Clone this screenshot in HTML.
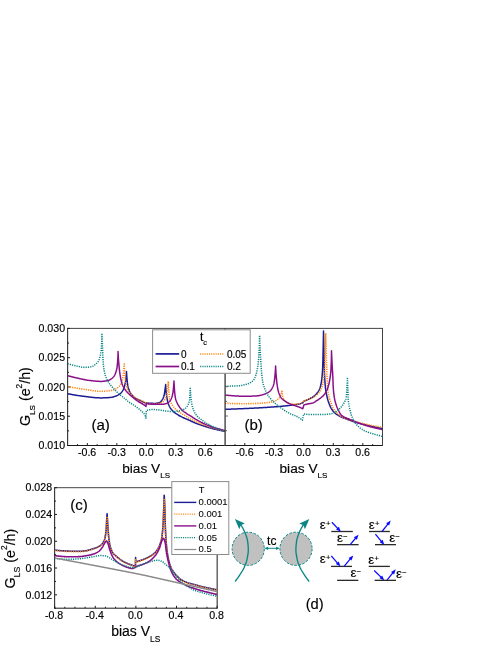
<!DOCTYPE html>
<html><head><meta charset="utf-8"><title>Conductance figure</title>
<style>
html,body{margin:0;padding:0;background:#fff;}
body{width:498px;height:645px;overflow:hidden;font-family:"Liberation Sans",sans-serif;}
svg{display:block;will-change:transform;}
svg text{font-family:"Liberation Sans",sans-serif;fill:#000;stroke:#000;stroke-width:0.16px;}
</style></head>
<body>
<svg width="498" height="645" viewBox="0 0 498 645">
<line x1="67.65" y1="328.40" x2="382.50" y2="328.40" stroke="#2e2e2e" stroke-width="0.9" />
<line x1="67.65" y1="445.50" x2="382.50" y2="445.50" stroke="#1a1a1a" stroke-width="1.0" />
<line x1="67.65" y1="327.90" x2="67.65" y2="446.00" stroke="#1a1a1a" stroke-width="1.0" />
<line x1="382.50" y1="327.95" x2="382.50" y2="446.00" stroke="#2e2e2e" stroke-width="0.9" />
<line x1="67.65" y1="445.50" x2="70.05" y2="445.50" stroke="#1a1a1a" stroke-width="1.0" />
<text x="65.05" y="449.20" font-size="10.6" text-anchor="end" >0.010</text>
<line x1="67.65" y1="430.86" x2="69.05" y2="430.86" stroke="#1a1a1a" stroke-width="1.0" />
<line x1="67.65" y1="416.23" x2="70.05" y2="416.23" stroke="#1a1a1a" stroke-width="1.0" />
<text x="65.05" y="419.93" font-size="10.6" text-anchor="end" >0.015</text>
<line x1="67.65" y1="401.59" x2="69.05" y2="401.59" stroke="#1a1a1a" stroke-width="1.0" />
<line x1="67.65" y1="386.95" x2="70.05" y2="386.95" stroke="#1a1a1a" stroke-width="1.0" />
<text x="65.05" y="390.65" font-size="10.6" text-anchor="end" >0.020</text>
<line x1="67.65" y1="372.31" x2="69.05" y2="372.31" stroke="#1a1a1a" stroke-width="1.0" />
<line x1="67.65" y1="357.67" x2="70.05" y2="357.67" stroke="#1a1a1a" stroke-width="1.0" />
<text x="65.05" y="361.37" font-size="10.6" text-anchor="end" >0.025</text>
<line x1="67.65" y1="343.04" x2="69.05" y2="343.04" stroke="#1a1a1a" stroke-width="1.0" />
<line x1="67.65" y1="328.40" x2="70.05" y2="328.40" stroke="#1a1a1a" stroke-width="1.0" />
<text x="65.05" y="332.10" font-size="10.6" text-anchor="end" >0.030</text>
<line x1="77.49" y1="445.50" x2="77.49" y2="444.10" stroke="#1a1a1a" stroke-width="1.0" />
<line x1="87.33" y1="445.50" x2="87.33" y2="443.10" stroke="#1a1a1a" stroke-width="1.0" />
<text x="87.13" y="456.30" font-size="10.6" text-anchor="middle" >-0.6</text>
<line x1="97.17" y1="445.50" x2="97.17" y2="444.10" stroke="#1a1a1a" stroke-width="1.0" />
<line x1="107.01" y1="445.50" x2="107.01" y2="444.10" stroke="#1a1a1a" stroke-width="1.0" />
<line x1="116.85" y1="445.50" x2="116.85" y2="443.10" stroke="#1a1a1a" stroke-width="1.0" />
<text x="116.65" y="456.30" font-size="10.6" text-anchor="middle" >-0.3</text>
<line x1="126.69" y1="445.50" x2="126.69" y2="444.10" stroke="#1a1a1a" stroke-width="1.0" />
<line x1="136.53" y1="445.50" x2="136.53" y2="444.10" stroke="#1a1a1a" stroke-width="1.0" />
<line x1="146.38" y1="445.50" x2="146.38" y2="443.10" stroke="#1a1a1a" stroke-width="1.0" />
<text x="146.18" y="456.30" font-size="10.6" text-anchor="middle" >0.0</text>
<line x1="156.22" y1="445.50" x2="156.22" y2="444.10" stroke="#1a1a1a" stroke-width="1.0" />
<line x1="166.06" y1="445.50" x2="166.06" y2="444.10" stroke="#1a1a1a" stroke-width="1.0" />
<line x1="175.90" y1="445.50" x2="175.90" y2="443.10" stroke="#1a1a1a" stroke-width="1.0" />
<text x="175.70" y="456.30" font-size="10.6" text-anchor="middle" >0.3</text>
<line x1="185.74" y1="445.50" x2="185.74" y2="444.10" stroke="#1a1a1a" stroke-width="1.0" />
<line x1="195.58" y1="445.50" x2="195.58" y2="444.10" stroke="#1a1a1a" stroke-width="1.0" />
<line x1="205.42" y1="445.50" x2="205.42" y2="443.10" stroke="#1a1a1a" stroke-width="1.0" />
<text x="205.22" y="456.30" font-size="10.6" text-anchor="middle" >0.6</text>
<line x1="215.26" y1="445.50" x2="215.26" y2="444.10" stroke="#1a1a1a" stroke-width="1.0" />
<line x1="234.94" y1="445.50" x2="234.94" y2="444.10" stroke="#1a1a1a" stroke-width="1.0" />
<line x1="244.78" y1="445.50" x2="244.78" y2="443.10" stroke="#1a1a1a" stroke-width="1.0" />
<text x="244.58" y="456.30" font-size="10.6" text-anchor="middle" >-0.6</text>
<line x1="254.61" y1="445.50" x2="254.61" y2="444.10" stroke="#1a1a1a" stroke-width="1.0" />
<line x1="264.45" y1="445.50" x2="264.45" y2="444.10" stroke="#1a1a1a" stroke-width="1.0" />
<line x1="274.29" y1="445.50" x2="274.29" y2="443.10" stroke="#1a1a1a" stroke-width="1.0" />
<text x="274.09" y="456.30" font-size="10.6" text-anchor="middle" >-0.3</text>
<line x1="284.12" y1="445.50" x2="284.12" y2="444.10" stroke="#1a1a1a" stroke-width="1.0" />
<line x1="293.96" y1="445.50" x2="293.96" y2="444.10" stroke="#1a1a1a" stroke-width="1.0" />
<line x1="303.80" y1="445.50" x2="303.80" y2="443.10" stroke="#1a1a1a" stroke-width="1.0" />
<text x="303.60" y="456.30" font-size="10.6" text-anchor="middle" >0.0</text>
<line x1="313.64" y1="445.50" x2="313.64" y2="444.10" stroke="#1a1a1a" stroke-width="1.0" />
<line x1="323.48" y1="445.50" x2="323.48" y2="444.10" stroke="#1a1a1a" stroke-width="1.0" />
<line x1="333.31" y1="445.50" x2="333.31" y2="443.10" stroke="#1a1a1a" stroke-width="1.0" />
<text x="333.11" y="456.30" font-size="10.6" text-anchor="middle" >0.3</text>
<line x1="343.15" y1="445.50" x2="343.15" y2="444.10" stroke="#1a1a1a" stroke-width="1.0" />
<line x1="352.99" y1="445.50" x2="352.99" y2="444.10" stroke="#1a1a1a" stroke-width="1.0" />
<line x1="362.82" y1="445.50" x2="362.82" y2="443.10" stroke="#1a1a1a" stroke-width="1.0" />
<text x="362.62" y="456.30" font-size="10.6" text-anchor="middle" >0.6</text>
<line x1="372.66" y1="445.50" x2="372.66" y2="444.10" stroke="#1a1a1a" stroke-width="1.0" />
<line x1="54.65" y1="487.70" x2="217.15" y2="487.70" stroke="#444" stroke-width="1.0" />
<line x1="54.65" y1="608.20" x2="217.15" y2="608.20" stroke="#1a1a1a" stroke-width="1.0" />
<line x1="54.65" y1="487.20" x2="54.65" y2="608.70" stroke="#1a1a1a" stroke-width="1.0" />
<line x1="217.15" y1="487.20" x2="217.15" y2="608.70" stroke="#1a1a1a" stroke-width="1.0" />
<line x1="54.65" y1="594.81" x2="57.05" y2="594.81" stroke="#1a1a1a" stroke-width="1.0" />
<text x="52.05" y="598.51" font-size="10.6" text-anchor="end" >0.012</text>
<line x1="54.65" y1="608.20" x2="56.05" y2="608.20" stroke="#1a1a1a" stroke-width="1.0" />
<line x1="54.65" y1="568.03" x2="57.05" y2="568.03" stroke="#1a1a1a" stroke-width="1.0" />
<text x="52.05" y="571.73" font-size="10.6" text-anchor="end" >0.016</text>
<line x1="54.65" y1="581.42" x2="56.05" y2="581.42" stroke="#1a1a1a" stroke-width="1.0" />
<line x1="54.65" y1="541.26" x2="57.05" y2="541.26" stroke="#1a1a1a" stroke-width="1.0" />
<text x="52.05" y="544.96" font-size="10.6" text-anchor="end" >0.020</text>
<line x1="54.65" y1="554.64" x2="56.05" y2="554.64" stroke="#1a1a1a" stroke-width="1.0" />
<line x1="54.65" y1="514.48" x2="57.05" y2="514.48" stroke="#1a1a1a" stroke-width="1.0" />
<text x="52.05" y="518.18" font-size="10.6" text-anchor="end" >0.024</text>
<line x1="54.65" y1="527.87" x2="56.05" y2="527.87" stroke="#1a1a1a" stroke-width="1.0" />
<line x1="54.65" y1="487.70" x2="57.05" y2="487.70" stroke="#1a1a1a" stroke-width="1.0" />
<text x="52.05" y="491.40" font-size="10.6" text-anchor="end" >0.028</text>
<line x1="54.65" y1="501.09" x2="56.05" y2="501.09" stroke="#1a1a1a" stroke-width="1.0" />
<line x1="54.65" y1="608.20" x2="54.65" y2="605.80" stroke="#1a1a1a" stroke-width="1.0" />
<text x="54.05" y="619.30" font-size="10.6" text-anchor="middle" >-0.8</text>
<line x1="64.81" y1="608.20" x2="64.81" y2="606.80" stroke="#1a1a1a" stroke-width="1.0" />
<line x1="74.96" y1="608.20" x2="74.96" y2="606.80" stroke="#1a1a1a" stroke-width="1.0" />
<line x1="85.12" y1="608.20" x2="85.12" y2="606.80" stroke="#1a1a1a" stroke-width="1.0" />
<line x1="95.28" y1="608.20" x2="95.28" y2="605.80" stroke="#1a1a1a" stroke-width="1.0" />
<text x="94.68" y="619.30" font-size="10.6" text-anchor="middle" >-0.4</text>
<line x1="105.43" y1="608.20" x2="105.43" y2="606.80" stroke="#1a1a1a" stroke-width="1.0" />
<line x1="115.59" y1="608.20" x2="115.59" y2="606.80" stroke="#1a1a1a" stroke-width="1.0" />
<line x1="125.74" y1="608.20" x2="125.74" y2="606.80" stroke="#1a1a1a" stroke-width="1.0" />
<line x1="135.90" y1="608.20" x2="135.90" y2="605.80" stroke="#1a1a1a" stroke-width="1.0" />
<text x="135.30" y="619.30" font-size="10.6" text-anchor="middle" >0.0</text>
<line x1="146.06" y1="608.20" x2="146.06" y2="606.80" stroke="#1a1a1a" stroke-width="1.0" />
<line x1="156.21" y1="608.20" x2="156.21" y2="606.80" stroke="#1a1a1a" stroke-width="1.0" />
<line x1="166.37" y1="608.20" x2="166.37" y2="606.80" stroke="#1a1a1a" stroke-width="1.0" />
<line x1="176.53" y1="608.20" x2="176.53" y2="605.80" stroke="#1a1a1a" stroke-width="1.0" />
<text x="175.93" y="619.30" font-size="10.6" text-anchor="middle" >0.4</text>
<line x1="186.68" y1="608.20" x2="186.68" y2="606.80" stroke="#1a1a1a" stroke-width="1.0" />
<line x1="196.84" y1="608.20" x2="196.84" y2="606.80" stroke="#1a1a1a" stroke-width="1.0" />
<line x1="206.99" y1="608.20" x2="206.99" y2="606.80" stroke="#1a1a1a" stroke-width="1.0" />
<line x1="217.15" y1="608.20" x2="217.15" y2="605.80" stroke="#1a1a1a" stroke-width="1.0" />
<text x="216.55" y="619.30" font-size="10.6" text-anchor="middle" >0.8</text>
<clipPath id="ca"><rect x="67.65" y="328.4" width="157.45" height="117.10000000000002"/></clipPath>
<clipPath id="cb"><rect x="225.1" y="328.4" width="157.4" height="117.10000000000002"/></clipPath>
<clipPath id="cc"><rect x="54.65" y="487.7" width="162.5" height="120.50000000000006"/></clipPath>
<g clip-path="url(#ca)">
<path d="M67.60 393.70L68.10 393.80L68.59 393.89L69.09 393.99L69.58 394.08L70.08 394.18L70.58 394.27L71.07 394.36L71.57 394.46L72.07 394.55L72.56 394.64L73.06 394.72L73.56 394.81L74.06 394.90L74.55 394.98L75.05 395.07L75.55 395.15L76.05 395.23L76.54 395.31L77.04 395.39L77.54 395.47L78.04 395.55L78.54 395.62L79.04 395.69L79.53 395.77L80.03 395.84L80.53 395.91L81.03 395.98L81.53 396.04L82.03 396.11L82.53 396.17L83.03 396.23L83.53 396.29L84.03 396.35L84.53 396.41L85.03 396.47L85.53 396.53L86.03 396.60L86.53 396.66L87.03 396.72L87.54 396.79L88.04 396.85L88.54 396.91L89.04 396.98L89.54 397.04L90.04 397.10L90.55 397.16L91.05 397.22L91.55 397.27L92.05 397.33L92.56 397.38L93.06 397.44L93.56 397.49L94.07 397.54L94.57 397.58L95.07 397.63L95.57 397.67L96.08 397.71L96.58 397.74L97.08 397.77L97.59 397.80L98.09 397.83L98.59 397.85L99.10 397.87L99.60 397.88L100.10 397.89L100.60 397.90L101.11 397.90L101.61 397.90L102.12 397.89L102.62 397.88L103.13 397.87L103.63 397.86L104.14 397.84L104.65 397.83L105.15 397.80L105.66 397.78L106.16 397.75L106.67 397.73L107.17 397.70L107.68 397.66L108.18 397.63L108.68 397.59L109.19 397.55L109.69 397.51L110.18 397.47L110.68 397.42L111.18 397.37L111.67 397.29L112.17 397.18L112.66 397.06L113.15 396.92L113.64 396.77L114.12 396.63L114.60 396.48L115.08 396.31L115.56 396.14L116.03 395.96L116.50 395.77L116.97 395.56L117.42 395.35L117.87 395.12L118.30 394.89L118.74 394.63L119.18 394.36L119.61 394.07L120.02 393.76L120.42 393.44L120.79 393.11L121.14 392.76L121.46 392.40L121.77 392.02L122.06 391.61L122.35 391.18L122.62 390.74L122.87 390.29L123.11 389.83L123.33 389.37L123.53 388.92L123.73 388.46L123.91 388.00L124.09 387.52L124.25 387.04L124.41 386.56L124.56 386.07L124.70 385.58L124.83 385.09L124.96 384.60L125.07 384.11L125.18 383.62L125.28 383.13L125.38 382.64L125.48 382.14L125.57 381.64L125.65 381.14L125.73 380.64L125.81 380.14L125.88 379.64L125.94 379.14L126.00 378.64L126.05 378.14L126.10 377.64L126.15 377.14L126.19 376.64L126.24 376.14L126.28 375.64L126.32 375.13L126.36 374.63L126.39 374.13L126.42 373.62L126.45 373.12L126.47 372.61L126.49 372.11L126.50 371.60L126.50 371.60L126.52 372.11L126.54 372.61L126.57 373.12L126.60 373.63L126.63 374.13L126.66 374.64L126.69 375.14L126.73 375.65L126.77 376.15L126.81 376.66L126.85 377.16L126.89 377.67L126.93 378.17L126.97 378.68L127.02 379.18L127.06 379.68L127.11 380.19L127.16 380.70L127.21 381.20L127.26 381.71L127.32 382.21L127.38 382.72L127.44 383.22L127.51 383.72L127.58 384.22L127.65 384.72L127.73 385.22L127.82 385.71L127.92 386.21L128.03 386.70L128.15 387.20L128.29 387.69L128.43 388.18L128.59 388.67L128.75 389.15L128.92 389.63L129.10 390.10L129.29 390.57L129.48 391.02L129.69 391.48L129.92 391.94L130.17 392.39L130.42 392.84L130.69 393.27L130.97 393.71L131.26 394.13L131.56 394.54L131.87 394.93L132.18 395.31L132.51 395.69L132.86 396.06L133.23 396.42L133.61 396.77L134.01 397.10L134.40 397.41L134.81 397.71L135.22 397.98L135.64 398.24L136.07 398.49L136.52 398.73L136.97 398.96L137.42 399.18L137.89 399.40L138.35 399.62L138.82 399.83L139.29 400.04L139.76 400.24L140.23 400.45L140.69 400.66L141.15 400.87L141.61 401.10L142.07 401.34L142.53 401.59L142.99 401.84L143.45 402.08L143.92 402.30L144.38 402.50L144.85 402.67L145.33 402.80L145.81 402.89L146.29 402.94L146.78 402.99L147.28 403.04L147.77 403.08L148.28 403.12L148.78 403.16L149.29 403.20L149.80 403.23L150.31 403.26L150.83 403.29L151.34 403.31L151.85 403.34L152.37 403.35L152.88 403.37L153.39 403.38L153.90 403.39L154.40 403.40L154.91 403.40L155.41 403.39L155.93 403.35L156.45 403.29L156.98 403.20L157.49 403.10L158.00 402.98L158.49 402.84L158.96 402.69L159.40 402.54L159.81 402.36L160.21 402.09L160.61 401.76L160.98 401.39L161.34 400.98L161.68 400.55L161.98 400.12L162.26 399.71L162.52 399.30L162.77 398.86L163.01 398.40L163.23 397.94L163.44 397.46L163.63 396.98L163.80 396.50L163.94 396.01L164.07 395.53L164.17 395.05L164.27 394.56L164.36 394.06L164.45 393.56L164.53 393.05L164.60 392.55L164.67 392.04L164.74 391.54L164.81 391.03L164.88 390.53L164.95 390.03L165.03 389.53L165.10 389.02L165.16 388.52L165.23 388.02L165.30 387.52L165.36 387.02L165.43 386.51L165.49 386.01L165.55 385.51L165.60 385.00L165.66 384.50L165.66 384.50L165.68 385.00L165.70 385.51L165.72 386.01L165.75 386.52L165.78 387.02L165.81 387.52L165.85 388.02L165.88 388.53L165.92 389.03L165.96 389.53L166.01 390.03L166.05 390.53L166.10 391.03L166.15 391.53L166.19 392.03L166.24 392.53L166.29 393.03L166.35 393.53L166.40 394.03L166.47 394.53L166.53 395.03L166.60 395.53L166.68 396.03L166.75 396.53L166.83 397.03L166.92 397.52L167.00 398.02L167.09 398.52L167.17 399.01L167.26 399.51L167.35 400.01L167.45 400.50L167.56 401.00L167.66 401.49L167.78 401.98L167.91 402.46L168.04 402.94L168.19 403.42L168.36 403.90L168.53 404.37L168.73 404.84L168.93 405.31L169.14 405.77L169.36 406.23L169.59 406.67L169.83 407.11L170.08 407.53L170.35 407.96L170.63 408.38L170.92 408.80L171.23 409.21L171.55 409.61L171.88 410.00L172.21 410.38L172.55 410.74L172.90 411.10L173.25 411.44L173.62 411.77L174.01 412.10L174.40 412.42L174.80 412.73L175.21 413.03L175.62 413.33L176.04 413.62L176.46 413.91L176.88 414.18L177.30 414.45L177.72 414.72L178.15 414.98L178.58 415.24L179.02 415.49L179.46 415.74L179.90 415.98L180.35 416.22L180.80 416.45L181.25 416.69L181.70 416.91L182.15 417.14L182.60 417.36L183.05 417.58L183.51 417.79L183.97 418.00L184.43 418.20L184.89 418.40L185.35 418.59L185.82 418.79L186.29 418.98L186.75 419.17L187.22 419.36L187.68 419.56L188.14 419.76L188.60 419.97L189.06 420.18L189.52 420.39L189.98 420.60L190.43 420.81L190.89 421.03L191.35 421.24L191.80 421.46L192.26 421.67L192.72 421.88L193.17 422.09L193.63 422.30L194.09 422.50L194.55 422.70L195.02 422.90L195.48 423.09L195.95 423.28L196.41 423.46L196.88 423.64L197.35 423.82L197.83 423.99L198.30 424.16L198.77 424.33L199.25 424.50L199.73 424.66L200.20 424.82L200.68 424.98L201.16 425.14L201.64 425.30L202.12 425.46L202.59 425.61L203.07 425.77L203.55 425.92L204.03 426.08L204.51 426.23L204.99 426.39L205.47 426.54L205.95 426.69L206.43 426.84L206.91 426.99L207.39 427.14L207.88 427.29L208.36 427.43L208.84 427.58L209.32 427.72L209.81 427.86L210.29 428.00L210.77 428.14L211.26 428.27L211.74 428.40L212.23 428.53L212.72 428.66L213.20 428.79L213.69 428.91L214.18 429.03L214.67 429.15L215.16 429.27L215.65 429.39L216.14 429.51L216.63 429.62L217.12 429.73L217.61 429.85L218.10 429.96L218.59 430.07L219.08 430.18L219.58 430.29L220.07 430.39L220.56 430.50L221.05 430.60L221.54 430.71L222.04 430.81L222.53 430.91L223.02 431.01L223.52 431.11L224.01 431.21L224.51 431.30L225.00 431.40" fill="none" stroke="#1c1c94" stroke-width="1.5" stroke-linejoin="round"/>
<path d="M67.60 386.60L68.10 386.69L68.60 386.78L69.09 386.87L69.59 386.96L70.09 387.05L70.59 387.14L71.09 387.22L71.58 387.31L72.08 387.40L72.58 387.48L73.08 387.57L73.58 387.65L74.08 387.74L74.57 387.82L75.07 387.90L75.57 387.98L76.07 388.06L76.57 388.15L77.07 388.23L77.57 388.30L78.07 388.38L78.57 388.46L79.07 388.54L79.57 388.61L80.07 388.69L80.57 388.76L81.07 388.84L81.57 388.91L82.07 388.98L82.57 389.05L83.07 389.13L83.57 389.20L84.07 389.27L84.57 389.34L85.07 389.41L85.57 389.49L86.07 389.57L86.57 389.65L87.07 389.73L87.57 389.81L88.07 389.89L88.58 389.97L89.08 390.05L89.58 390.13L90.08 390.21L90.58 390.29L91.08 390.37L91.58 390.45L92.09 390.52L92.59 390.59L93.09 390.67L93.59 390.73L94.09 390.80L94.60 390.86L95.10 390.92L95.60 390.98L96.10 391.03L96.61 391.08L97.11 391.13L97.61 391.17L98.12 391.20L98.62 391.23L99.12 391.26L99.62 391.28L100.13 391.29L100.63 391.30L101.14 391.30L101.64 391.30L102.14 391.29L102.65 391.27L103.16 391.26L103.66 391.24L104.17 391.21L104.68 391.18L105.18 391.15L105.69 391.12L106.19 391.08L106.70 391.04L107.20 391.00L107.70 390.96L108.20 390.92L108.71 390.87L109.21 390.81L109.71 390.75L110.22 390.67L110.73 390.58L111.23 390.48L111.73 390.37L112.23 390.26L112.72 390.13L113.21 390.00L113.68 389.86L114.15 389.72L114.61 389.55L115.08 389.36L115.54 389.13L116.00 388.89L116.44 388.62L116.88 388.33L117.30 388.04L117.70 387.73L118.08 387.42L118.44 387.09L118.80 386.74L119.15 386.37L119.49 385.97L119.81 385.56L120.11 385.14L120.39 384.71L120.65 384.28L120.88 383.85L121.09 383.40L121.29 382.94L121.48 382.47L121.65 381.99L121.82 381.50L121.97 381.01L122.11 380.52L122.24 380.03L122.36 379.54L122.47 379.05L122.58 378.56L122.68 378.07L122.77 377.57L122.86 377.07L122.95 376.57L123.03 376.07L123.10 375.57L123.18 375.06L123.25 374.56L123.32 374.06L123.39 373.56L123.45 373.06L123.51 372.56L123.57 372.06L123.63 371.55L123.68 371.05L123.74 370.55L123.79 370.04L123.84 369.54L123.89 369.04L123.93 368.54L123.98 368.03L124.03 367.53L124.07 367.02L124.11 366.52L124.15 366.02L124.19 365.51L124.23 365.01L124.27 364.50L124.30 364.00L124.30 364.00L124.30 364.51L124.31 365.02L124.31 365.53L124.32 366.03L124.34 366.54L124.35 367.05L124.37 367.55L124.39 368.06L124.41 368.57L124.44 369.07L124.46 369.58L124.49 370.08L124.52 370.59L124.56 371.09L124.59 371.60L124.63 372.10L124.67 372.60L124.70 373.11L124.75 373.61L124.79 374.11L124.83 374.61L124.88 375.12L124.92 375.62L124.97 376.12L125.01 376.62L125.06 377.12L125.11 377.62L125.16 378.13L125.21 378.63L125.26 379.13L125.31 379.63L125.37 380.13L125.43 380.63L125.50 381.13L125.58 381.63L125.66 382.13L125.75 382.63L125.85 383.13L125.95 383.63L126.05 384.12L126.16 384.61L126.28 385.10L126.40 385.59L126.53 386.08L126.67 386.57L126.82 387.06L126.98 387.55L127.16 388.03L127.34 388.51L127.53 388.98L127.73 389.44L127.94 389.89L128.16 390.33L128.40 390.76L128.67 391.18L128.96 391.59L129.27 391.99L129.60 392.39L129.94 392.78L130.29 393.16L130.64 393.53L130.99 393.89L131.34 394.24L131.70 394.60L132.06 394.95L132.43 395.30L132.81 395.65L133.19 395.99L133.57 396.33L133.97 396.66L134.36 396.99L134.77 397.30L135.17 397.61L135.58 397.91L136.00 398.20L136.42 398.47L136.84 398.73L137.27 398.98L137.70 399.22L138.14 399.44L138.60 399.64L139.06 399.84L139.53 400.03L140.00 400.22L140.47 400.40L140.95 400.58L141.43 400.76L141.91 400.94L142.39 401.13L142.86 401.32L143.32 401.52L143.78 401.74L144.23 401.98L144.68 402.25L145.13 402.49L145.59 402.71L146.05 402.87L146.53 402.96L147.01 403.05L147.49 403.14L147.99 403.22L148.48 403.29L148.98 403.36L149.49 403.43L149.99 403.49L150.50 403.55L151.01 403.60L151.53 403.65L152.04 403.69L152.55 403.72L153.06 403.75L153.57 403.77L154.08 403.79L154.58 403.80L155.09 403.80L155.59 403.79L156.10 403.76L156.62 403.71L157.13 403.65L157.64 403.58L158.15 403.50L158.65 403.40L159.15 403.30L159.63 403.19L160.11 403.07L160.57 402.95L161.03 402.79L161.50 402.57L161.96 402.32L162.41 402.04L162.84 401.73L163.25 401.40L163.63 401.07L163.97 400.73L164.29 400.38L164.59 399.99L164.89 399.58L165.18 399.14L165.44 398.69L165.69 398.22L165.91 397.75L166.10 397.27L166.27 396.80L166.41 396.34L166.54 395.86L166.66 395.38L166.77 394.89L166.87 394.39L166.97 393.89L167.06 393.39L167.15 392.88L167.23 392.38L167.31 391.87L167.38 391.36L167.44 390.86L167.51 390.36L167.57 389.86L167.63 389.36L167.69 388.86L167.74 388.36L167.80 387.86L167.86 387.35L167.91 386.85L167.96 386.35L168.01 385.85L168.05 385.34L168.10 384.84L168.14 384.34L168.17 383.83L168.21 383.33L168.24 382.82L168.26 382.31L168.28 381.81L168.30 381.30L168.30 381.30L168.32 381.80L168.34 382.31L168.36 382.81L168.38 383.32L168.40 383.82L168.43 384.32L168.45 384.83L168.48 385.33L168.51 385.83L168.53 386.34L168.56 386.84L168.59 387.34L168.62 387.85L168.65 388.35L168.69 388.85L168.72 389.36L168.75 389.86L168.79 390.36L168.82 390.86L168.86 391.37L168.89 391.87L168.93 392.37L168.96 392.88L168.99 393.38L169.03 393.89L169.07 394.40L169.10 394.90L169.14 395.41L169.19 395.92L169.23 396.42L169.28 396.92L169.34 397.42L169.40 397.91L169.47 398.40L169.55 398.89L169.66 399.38L169.80 399.86L169.96 400.34L170.14 400.82L170.33 401.30L170.53 401.77L170.74 402.23L170.95 402.69L171.16 403.14L171.39 403.59L171.63 404.03L171.88 404.47L172.15 404.91L172.42 405.34L172.71 405.76L173.00 406.17L173.30 406.57L173.60 406.96L173.92 407.34L174.25 407.72L174.60 408.10L174.95 408.46L175.31 408.82L175.68 409.17L176.05 409.52L176.43 409.86L176.81 410.19L177.19 410.51L177.58 410.82L177.98 411.13L178.38 411.44L178.79 411.73L179.20 412.02L179.62 412.31L180.04 412.59L180.47 412.87L180.89 413.14L181.32 413.41L181.75 413.67L182.18 413.92L182.62 414.17L183.07 414.41L183.52 414.64L183.96 414.88L184.41 415.11L184.85 415.36L185.29 415.60L185.72 415.86L186.15 416.13L186.56 416.42L186.96 416.73L187.36 417.04L187.76 417.34L188.18 417.62L188.61 417.88L189.04 418.14L189.47 418.40L189.91 418.65L190.35 418.90L190.79 419.14L191.23 419.38L191.68 419.62L192.13 419.85L192.58 420.08L193.04 420.30L193.49 420.53L193.95 420.75L194.40 420.96L194.86 421.18L195.32 421.39L195.78 421.60L196.23 421.80L196.69 422.01L197.15 422.21L197.62 422.40L198.08 422.60L198.55 422.79L199.02 422.98L199.49 423.16L199.96 423.34L200.43 423.53L200.90 423.71L201.37 423.88L201.85 424.06L202.32 424.24L202.79 424.41L203.26 424.59L203.74 424.77L204.21 424.94L204.68 425.12L205.16 425.29L205.63 425.47L206.10 425.64L206.58 425.81L207.05 425.99L207.52 426.16L208.00 426.33L208.48 426.50L208.95 426.66L209.43 426.83L209.91 426.99L210.38 427.15L210.86 427.31L211.34 427.46L211.82 427.61L212.30 427.76L212.78 427.91L213.27 428.05L213.75 428.20L214.23 428.34L214.72 428.48L215.20 428.61L215.69 428.75L216.18 428.88L216.66 429.02L217.15 429.15L217.64 429.28L218.13 429.40L218.61 429.53L219.10 429.65L219.59 429.77L220.08 429.90L220.57 430.01L221.06 430.13L221.55 430.25L222.04 430.36L222.53 430.47L223.03 430.58L223.52 430.69L224.01 430.79L224.51 430.90L225.00 431.00" fill="none" stroke="#ff8510" stroke-width="1.6" stroke-linejoin="round" stroke-dasharray="1.2 1.1"/>
<path d="M67.60 375.70L68.09 375.83L68.58 375.96L69.07 376.09L69.55 376.22L70.04 376.34L70.53 376.47L71.02 376.59L71.51 376.72L72.00 376.84L72.49 376.96L72.98 377.08L73.47 377.20L73.96 377.32L74.45 377.43L74.95 377.55L75.44 377.66L75.93 377.77L76.42 377.88L76.91 377.99L77.41 378.10L77.90 378.21L78.39 378.32L78.89 378.43L79.38 378.54L79.87 378.65L80.37 378.76L80.86 378.87L81.36 378.98L81.85 379.09L82.34 379.20L82.84 379.30L83.34 379.41L83.83 379.51L84.33 379.61L84.82 379.71L85.32 379.81L85.81 379.90L86.31 379.99L86.81 380.07L87.31 380.16L87.80 380.23L88.30 380.31L88.80 380.38L89.30 380.44L89.80 380.50L90.30 380.56L90.80 380.61L91.30 380.67L91.80 380.73L92.31 380.79L92.81 380.84L93.31 380.90L93.82 380.95L94.32 381.00L94.82 381.05L95.33 381.10L95.83 381.15L96.34 381.19L96.84 381.23L97.35 381.27L97.85 381.30L98.36 381.33L98.86 381.35L99.36 381.37L99.87 381.39L100.37 381.40L100.87 381.40L101.37 381.40L101.88 381.38L102.39 381.35L102.90 381.31L103.41 381.26L103.92 381.20L104.43 381.14L104.94 381.06L105.45 380.98L105.94 380.89L106.44 380.79L106.92 380.69L107.40 380.59L107.87 380.48L108.34 380.35L108.82 380.18L109.29 379.99L109.76 379.76L110.23 379.51L110.68 379.24L111.12 378.95L111.55 378.65L111.95 378.34L112.34 378.02L112.69 377.71L113.03 377.37L113.36 377.00L113.68 376.61L113.99 376.19L114.28 375.75L114.55 375.30L114.80 374.85L115.03 374.39L115.22 373.94L115.41 373.49L115.59 373.02L115.76 372.55L115.93 372.08L116.09 371.59L116.25 371.10L116.39 370.61L116.53 370.11L116.65 369.62L116.77 369.12L116.87 368.62L116.96 368.12L117.04 367.62L117.10 367.12L117.15 366.63L117.20 366.13L117.26 365.64L117.31 365.14L117.35 364.64L117.40 364.15L117.45 363.65L117.49 363.15L117.54 362.65L117.58 362.15L117.62 361.65L117.66 361.15L117.70 360.65L117.73 360.15L117.77 359.65L117.80 359.14L117.83 358.64L117.86 358.13L117.89 357.63L117.91 357.12L117.94 356.61L117.96 356.11L117.98 355.60L117.99 355.09L118.01 354.58L118.02 354.07L118.03 353.56L118.04 353.04L118.05 352.53L118.05 352.02L118.05 351.50L118.05 351.50L118.07 352.01L118.08 352.51L118.10 353.02L118.13 353.52L118.15 354.03L118.17 354.53L118.20 355.04L118.23 355.54L118.26 356.04L118.29 356.55L118.32 357.05L118.35 357.56L118.38 358.06L118.42 358.56L118.46 359.07L118.49 359.57L118.53 360.08L118.57 360.58L118.61 361.08L118.65 361.58L118.69 362.09L118.74 362.59L118.78 363.09L118.83 363.60L118.87 364.10L118.92 364.60L118.96 365.10L119.01 365.60L119.06 366.11L119.11 366.61L119.15 367.11L119.20 367.61L119.25 368.11L119.30 368.62L119.35 369.12L119.41 369.62L119.46 370.12L119.52 370.62L119.58 371.13L119.64 371.63L119.70 372.13L119.77 372.63L119.84 373.13L119.91 373.63L119.98 374.13L120.05 374.63L120.13 375.13L120.21 375.63L120.29 376.13L120.38 376.62L120.47 377.12L120.56 377.61L120.65 378.11L120.75 378.61L120.85 379.11L120.96 379.61L121.07 380.10L121.19 380.60L121.31 381.10L121.43 381.59L121.57 382.08L121.70 382.57L121.85 383.05L122.00 383.53L122.15 384.00L122.32 384.47L122.49 384.93L122.67 385.38L122.88 385.84L123.10 386.29L123.33 386.74L123.58 387.19L123.84 387.63L124.11 388.07L124.39 388.50L124.67 388.93L124.96 389.35L125.26 389.77L125.56 390.18L125.86 390.58L126.16 390.97L126.47 391.36L126.79 391.74L127.12 392.12L127.46 392.49L127.81 392.85L128.17 393.21L128.54 393.57L128.91 393.92L129.28 394.27L129.66 394.61L130.04 394.95L130.41 395.29L130.79 395.63L131.17 395.96L131.55 396.29L131.93 396.62L132.31 396.95L132.69 397.28L133.08 397.60L133.47 397.93L133.87 398.25L134.26 398.56L134.66 398.87L135.06 399.18L135.47 399.49L135.87 399.79L136.28 400.09L136.69 400.38L137.10 400.67L137.52 400.95L137.94 401.22L138.37 401.49L138.80 401.74L139.24 402.00L139.68 402.25L140.12 402.49L140.56 402.74L141.01 402.99L141.45 403.24L141.89 403.49L142.32 403.75L142.75 404.01L143.17 404.28L143.59 404.56L144.00 404.85L144.41 405.15L144.81 405.46L145.21 405.77L145.61 406.08L146.00 406.40L146.30 403.70L146.81 403.75L147.31 403.81L147.82 403.86L148.33 403.91L148.83 403.96L149.34 404.01L149.84 404.05L150.35 404.09L150.86 404.13L151.37 404.17L151.87 404.20L152.38 404.23L152.89 404.25L153.39 404.27L153.90 404.29L154.41 404.30L154.91 404.30L155.42 404.30L155.93 404.30L156.44 404.30L156.95 404.30L157.46 404.30L157.97 404.30L158.48 404.30L158.99 404.30L159.50 404.30L160.01 404.30L160.51 404.30L161.02 404.30L161.52 404.30L162.03 404.30L162.53 404.29L163.05 404.26L163.56 404.20L164.08 404.11L164.60 404.01L165.10 403.88L165.60 403.75L166.08 403.61L166.53 403.46L166.97 403.29L167.42 403.08L167.86 402.81L168.30 402.51L168.72 402.17L169.13 401.81L169.51 401.43L169.85 401.03L170.16 400.64L170.43 400.25L170.67 399.85L170.90 399.43L171.12 398.98L171.33 398.52L171.53 398.04L171.72 397.55L171.89 397.05L172.06 396.55L172.21 396.04L172.34 395.53L172.46 395.03L172.57 394.53L172.67 394.04L172.76 393.55L172.84 393.05L172.92 392.55L173.00 392.05L173.07 391.55L173.13 391.04L173.20 390.53L173.26 390.02L173.31 389.52L173.36 389.01L173.42 388.50L173.46 387.99L173.51 387.49L173.56 386.98L173.60 386.48L173.64 385.97L173.69 385.47L173.73 384.96L173.76 384.45L173.80 383.95L173.83 383.44L173.87 382.93L173.90 382.42L173.92 381.92L173.95 381.41L173.97 380.90L173.97 380.90L173.99 381.40L174.01 381.91L174.03 382.41L174.06 382.91L174.08 383.42L174.11 383.92L174.14 384.42L174.17 384.93L174.19 385.43L174.23 385.93L174.26 386.44L174.29 386.94L174.32 387.44L174.36 387.94L174.39 388.45L174.43 388.95L174.46 389.45L174.50 389.95L174.53 390.46L174.57 390.96L174.61 391.46L174.65 391.97L174.69 392.47L174.74 392.97L174.79 393.47L174.84 393.97L174.89 394.47L174.95 394.97L175.01 395.47L175.08 395.97L175.15 396.48L175.23 396.97L175.32 397.47L175.41 397.97L175.52 398.46L175.63 398.94L175.77 399.43L175.91 399.91L176.08 400.39L176.25 400.86L176.44 401.34L176.63 401.81L176.83 402.27L177.03 402.73L177.24 403.18L177.45 403.64L177.68 404.09L177.92 404.54L178.17 404.98L178.43 405.42L178.70 405.85L178.97 406.28L179.25 406.69L179.53 407.10L179.83 407.50L180.14 407.90L180.46 408.29L180.79 408.67L181.13 409.06L181.47 409.43L181.83 409.80L182.19 410.15L182.55 410.50L182.92 410.84L183.29 411.17L183.68 411.48L184.07 411.79L184.48 412.09L184.89 412.39L185.30 412.68L185.72 412.96L186.15 413.24L186.57 413.52L186.99 413.80L187.41 414.08L187.84 414.35L188.26 414.62L188.69 414.88L189.12 415.15L189.55 415.41L189.98 415.67L190.42 415.93L190.85 416.19L191.28 416.45L191.71 416.72L192.13 416.98L192.56 417.26L192.98 417.54L193.40 417.82L193.81 418.10L194.23 418.38L194.65 418.66L195.08 418.93L195.50 419.20L195.93 419.46L196.37 419.71L196.80 419.96L197.24 420.21L197.68 420.46L198.12 420.70L198.56 420.95L199.01 421.19L199.45 421.42L199.90 421.66L200.35 421.89L200.80 422.12L201.25 422.34L201.70 422.57L202.16 422.79L202.61 423.01L203.07 423.22L203.52 423.44L203.98 423.65L204.44 423.85L204.90 424.06L205.36 424.26L205.82 424.46L206.28 424.66L206.75 424.85L207.21 425.05L207.68 425.24L208.15 425.43L208.62 425.61L209.09 425.80L209.56 425.98L210.03 426.16L210.50 426.33L210.98 426.51L211.45 426.67L211.93 426.84L212.40 427.00L212.88 427.16L213.36 427.32L213.84 427.47L214.32 427.62L214.80 427.77L215.28 427.92L215.76 428.06L216.25 428.21L216.73 428.35L217.22 428.49L217.70 428.63L218.19 428.76L218.67 428.90L219.16 429.04L219.64 429.17L220.13 429.31L220.61 429.44L221.10 429.58L221.59 429.71L222.07 429.84L222.56 429.97L223.05 430.10L223.54 430.23L224.02 430.35L224.51 430.48L225.00 430.60" fill="none" stroke="#8a108a" stroke-width="1.5" stroke-linejoin="round"/>
<path d="M67.60 363.70L68.09 363.85L68.58 364.00L69.06 364.14L69.55 364.29L70.04 364.43L70.53 364.56L71.02 364.70L71.52 364.83L72.01 364.96L72.50 365.09L72.99 365.21L73.49 365.34L73.98 365.46L74.47 365.57L74.97 365.69L75.46 365.80L75.96 365.90L76.46 366.01L76.95 366.11L77.45 366.21L77.95 366.31L78.45 366.42L78.95 366.53L79.45 366.64L79.95 366.74L80.45 366.85L80.95 366.95L81.45 367.05L81.96 367.14L82.46 367.22L82.96 367.28L83.47 367.34L83.97 367.37L84.47 367.40L84.98 367.40L85.49 367.39L86.00 367.37L86.51 367.35L87.03 367.31L87.55 367.27L88.06 367.22L88.57 367.16L89.08 367.10L89.58 367.03L90.08 366.95L90.57 366.87L91.05 366.79L91.52 366.68L91.99 366.52L92.46 366.32L92.93 366.08L93.39 365.82L93.83 365.54L94.27 365.24L94.69 364.94L95.10 364.63L95.49 364.33L95.88 364.01L96.26 363.67L96.64 363.31L97.01 362.94L97.36 362.54L97.69 362.14L98.00 361.73L98.27 361.31L98.51 360.89L98.72 360.45L98.92 360.00L99.11 359.54L99.29 359.06L99.46 358.57L99.62 358.08L99.77 357.58L99.91 357.08L100.03 356.57L100.15 356.07L100.26 355.57L100.37 355.08L100.46 354.58L100.56 354.09L100.65 353.59L100.74 353.09L100.83 352.58L100.91 352.08L100.98 351.57L101.05 351.07L101.11 350.56L101.17 350.05L101.22 349.55L101.27 349.04L101.30 348.54L101.34 348.03L101.37 347.53L101.40 347.02L101.43 346.51L101.47 346.01L101.50 345.50L101.53 345.00L101.55 344.49L101.58 343.98L101.61 343.48L101.63 342.97L101.66 342.46L101.68 341.96L101.71 341.45L101.73 340.94L101.75 340.43L101.77 339.93L101.79 339.42L101.80 338.91L101.82 338.40L101.84 337.89L101.85 337.38L101.86 336.87L101.87 336.36L101.88 335.85L101.89 335.34L101.89 334.83L101.90 334.32L101.90 333.81L101.90 333.30L101.90 333.30L101.92 333.80L101.94 334.31L101.96 334.81L101.98 335.32L102.00 335.82L102.02 336.32L102.04 336.83L102.06 337.33L102.08 337.84L102.10 338.34L102.12 338.85L102.15 339.35L102.17 339.85L102.19 340.36L102.21 340.86L102.23 341.37L102.25 341.87L102.27 342.37L102.30 342.88L102.32 343.38L102.34 343.89L102.36 344.39L102.38 344.89L102.41 345.40L102.43 345.90L102.45 346.41L102.47 346.91L102.50 347.41L102.52 347.92L102.54 348.42L102.56 348.93L102.59 349.43L102.61 349.93L102.63 350.44L102.65 350.94L102.67 351.45L102.69 351.95L102.71 352.46L102.73 352.96L102.75 353.47L102.77 353.97L102.79 354.48L102.81 354.98L102.83 355.49L102.85 355.99L102.87 356.50L102.89 357.00L102.92 357.51L102.94 358.01L102.96 358.52L102.99 359.02L103.01 359.52L103.04 360.03L103.07 360.53L103.10 361.03L103.13 361.54L103.16 362.04L103.19 362.54L103.23 363.04L103.27 363.54L103.30 364.04L103.35 364.55L103.39 365.05L103.44 365.55L103.50 366.06L103.56 366.56L103.62 367.07L103.69 367.57L103.76 368.08L103.83 368.58L103.91 369.08L104.00 369.59L104.08 370.09L104.17 370.59L104.27 371.09L104.37 371.58L104.47 372.08L104.57 372.57L104.68 373.06L104.79 373.54L104.91 374.02L105.03 374.50L105.15 374.98L105.29 375.45L105.44 375.93L105.61 376.40L105.79 376.87L105.98 377.35L106.18 377.81L106.39 378.28L106.61 378.75L106.84 379.21L107.07 379.66L107.31 380.12L107.56 380.57L107.81 381.01L108.07 381.45L108.32 381.89L108.58 382.32L108.84 382.75L109.10 383.16L109.38 383.58L109.67 383.98L109.97 384.38L110.28 384.78L110.60 385.17L110.92 385.56L111.26 385.95L111.60 386.33L111.94 386.71L112.28 387.08L112.63 387.46L112.97 387.83L113.31 388.20L113.65 388.58L113.99 388.95L114.34 389.32L114.68 389.68L115.03 390.05L115.38 390.41L115.74 390.77L116.09 391.13L116.45 391.49L116.81 391.85L117.17 392.20L117.54 392.55L117.90 392.89L118.27 393.24L118.64 393.58L119.02 393.91L119.39 394.25L119.77 394.58L120.16 394.90L120.55 395.22L120.94 395.54L121.34 395.85L121.73 396.16L122.13 396.47L122.53 396.78L122.93 397.09L123.33 397.40L123.73 397.71L124.12 398.03L124.52 398.34L124.91 398.66L125.30 398.98L125.68 399.31L126.06 399.64L126.44 399.98L126.82 400.32L127.20 400.65L127.58 400.98L127.97 401.30L128.36 401.62L128.76 401.92L129.17 402.21L129.58 402.50L130.00 402.77L130.43 403.04L130.86 403.31L131.29 403.58L131.72 403.84L132.16 404.10L132.59 404.36L133.02 404.63L133.45 404.90L133.87 405.17L134.29 405.45L134.71 405.73L135.12 406.03L135.53 406.32L135.93 406.62L136.34 406.92L136.74 407.22L137.15 407.53L137.55 407.84L137.95 408.15L138.35 408.46L138.74 408.78L139.13 409.10L139.52 409.42L139.91 409.74L140.29 410.07L140.67 410.40L141.04 410.74L141.42 411.07L141.82 411.41L142.21 411.75L142.60 412.09L142.97 412.45L143.33 412.81L143.65 413.18L143.95 413.57L144.20 413.97L144.45 414.39L144.68 414.82L144.90 415.27L145.11 415.72L145.31 416.19L145.49 416.68L145.64 417.17L145.78 417.68L145.90 418.20L146.30 410.50L146.80 410.38L147.30 410.26L147.80 410.15L148.30 410.05L148.80 409.95L149.30 409.86L149.80 409.78L150.30 409.71L150.80 409.65L151.30 409.60L151.80 409.56L152.30 409.53L152.80 409.51L153.30 409.50L153.80 409.50L154.30 409.52L154.80 409.54L155.30 409.57L155.81 409.61L156.31 409.66L156.81 409.71L157.32 409.77L157.82 409.83L158.32 409.90L158.82 409.97L159.33 410.03L159.83 410.11L160.33 410.18L160.83 410.25L161.33 410.31L161.83 410.38L162.33 410.44L162.83 410.52L163.33 410.60L163.83 410.69L164.33 410.78L164.83 410.87L165.33 410.96L165.83 411.05L166.32 411.12L166.82 411.19L167.32 411.25L167.82 411.29L168.33 411.32L168.83 411.34L169.33 411.37L169.84 411.39L170.34 411.42L170.85 411.44L171.35 411.45L171.86 411.47L172.37 411.48L172.87 411.49L173.37 411.50L173.88 411.50L174.38 411.50L174.89 411.48L175.39 411.44L175.90 411.40L176.40 411.35L176.90 411.29L177.40 411.22L177.91 411.15L178.40 411.07L178.90 411.00L179.40 410.92L179.90 410.82L180.40 410.72L180.90 410.60L181.39 410.46L181.87 410.32L182.34 410.16L182.80 409.98L183.26 409.77L183.71 409.53L184.15 409.26L184.58 408.97L184.99 408.67L185.38 408.35L185.74 408.03L186.10 407.67L186.44 407.29L186.76 406.88L187.06 406.47L187.33 406.05L187.58 405.62L187.82 405.18L188.05 404.72L188.26 404.26L188.46 403.78L188.64 403.31L188.79 402.83L188.93 402.35L189.07 401.87L189.20 401.38L189.32 400.88L189.43 400.39L189.52 399.89L189.61 399.39L189.67 398.89L189.72 398.39L189.76 397.89L189.79 397.38L189.82 396.88L189.85 396.38L189.88 395.87L189.90 395.37L189.92 394.86L189.94 394.35L189.96 393.85L189.98 393.34L190.01 392.84L190.03 392.34L190.05 391.83L190.08 391.33L190.10 390.82L190.12 390.32L190.14 389.81L190.16 389.31L190.18 388.80L190.20 388.30L190.20 388.30L190.23 388.80L190.26 389.31L190.29 389.81L190.32 390.31L190.36 390.82L190.39 391.32L190.43 391.82L190.47 392.33L190.51 392.83L190.55 393.33L190.59 393.83L190.63 394.34L190.67 394.84L190.71 395.34L190.76 395.84L190.80 396.35L190.85 396.85L190.90 397.35L190.95 397.85L191.00 398.36L191.06 398.86L191.12 399.36L191.18 399.86L191.25 400.36L191.32 400.85L191.39 401.35L191.47 401.85L191.55 402.35L191.64 402.85L191.73 403.35L191.83 403.85L191.93 404.34L192.04 404.83L192.15 405.33L192.26 405.82L192.38 406.30L192.50 406.79L192.63 407.28L192.77 407.76L192.92 408.25L193.07 408.74L193.24 409.22L193.41 409.70L193.59 410.18L193.77 410.65L193.97 411.11L194.17 411.57L194.38 412.01L194.61 412.45L194.85 412.89L195.11 413.32L195.39 413.75L195.68 414.17L195.98 414.58L196.30 414.99L196.62 415.39L196.95 415.77L197.28 416.15L197.61 416.52L197.96 416.87L198.31 417.22L198.68 417.56L199.06 417.89L199.45 418.21L199.85 418.53L200.25 418.84L200.66 419.15L201.06 419.46L201.48 419.76L201.89 420.06L202.30 420.35L202.70 420.65L203.11 420.94L203.53 421.23L203.94 421.51L204.36 421.80L204.78 422.07L205.21 422.35L205.63 422.62L206.06 422.89L206.49 423.16L206.92 423.42L207.36 423.67L207.79 423.93L208.23 424.17L208.67 424.42L209.11 424.66L209.56 424.90L210.00 425.13L210.45 425.36L210.90 425.59L211.35 425.82L211.81 426.04L212.26 426.26L212.72 426.48L213.18 426.69L213.63 426.91L214.09 427.12L214.55 427.32L215.01 427.53L215.47 427.74L215.93 427.94L216.40 428.14L216.86 428.34L217.33 428.54L217.79 428.73L218.26 428.92L218.73 429.11L219.20 429.28L219.68 429.45L220.15 429.62L220.63 429.77L221.11 429.93L221.59 430.08L222.07 430.22L222.55 430.37L223.04 430.50L223.53 430.63L224.02 430.76L224.51 430.88L225.00 431.00" fill="none" stroke="#088686" stroke-width="1.5" stroke-linejoin="round" stroke-dasharray="1.2 1.1"/>
</g>
<g clip-path="url(#cb)">
<path d="M225.10 409.30L225.60 409.29L226.11 409.27L226.61 409.26L227.11 409.24L227.62 409.23L228.12 409.21L228.63 409.20L229.13 409.18L229.63 409.17L230.14 409.15L230.64 409.13L231.14 409.12L231.65 409.10L232.15 409.08L232.65 409.06L233.16 409.05L233.66 409.03L234.16 409.01L234.67 408.99L235.17 408.97L235.67 408.95L236.18 408.93L236.68 408.91L237.18 408.89L237.69 408.87L238.19 408.85L238.69 408.83L239.20 408.81L239.70 408.79L240.20 408.77L240.71 408.75L241.21 408.73L241.71 408.71L242.22 408.69L242.72 408.66L243.22 408.64L243.73 408.62L244.23 408.60L244.73 408.57L245.24 408.55L245.74 408.53L246.24 408.51L246.74 408.48L247.25 408.46L247.75 408.44L248.25 408.41L248.76 408.39L249.26 408.36L249.76 408.34L250.27 408.31L250.77 408.29L251.27 408.27L251.78 408.24L252.28 408.22L252.78 408.19L253.28 408.17L253.79 408.14L254.29 408.12L254.79 408.09L255.30 408.06L255.80 408.04L256.30 408.01L256.80 407.99L257.31 407.96L257.81 407.93L258.31 407.90L258.82 407.88L259.32 407.85L259.82 407.82L260.33 407.79L260.83 407.76L261.33 407.74L261.83 407.71L262.34 407.68L262.84 407.65L263.34 407.62L263.85 407.59L264.35 407.55L264.85 407.52L265.35 407.49L265.86 407.46L266.36 407.43L266.86 407.40L267.37 407.36L267.87 407.33L268.37 407.30L268.87 407.26L269.38 407.23L269.88 407.19L270.38 407.16L270.88 407.12L271.39 407.09L271.89 407.05L272.39 407.02L272.89 406.98L273.40 406.94L273.90 406.90L274.40 406.87L274.90 406.83L275.41 406.79L275.91 406.75L276.41 406.71L276.91 406.67L277.41 406.63L277.91 406.59L278.42 406.55L278.92 406.51L279.42 406.46L279.92 406.42L280.42 406.38L280.92 406.33L281.43 406.29L281.93 406.24L282.43 406.19L282.93 406.15L283.43 406.10L283.93 406.05L284.44 406.00L284.94 405.94L285.44 405.89L285.94 405.84L286.44 405.78L286.94 405.73L287.44 405.67L287.94 405.61L288.44 405.56L288.94 405.50L289.44 405.44L289.94 405.38L290.44 405.31L290.94 405.25L291.44 405.19L291.94 405.12L292.44 405.06L292.94 404.99L293.44 404.92L293.94 404.86L294.44 404.79L294.95 404.72L295.45 404.65L295.95 404.57L296.45 404.50L296.95 404.41L297.44 404.33L297.94 404.24L298.43 404.14L298.92 404.04L299.41 403.94L299.90 403.83L300.38 403.70L300.85 403.55L301.33 403.38L301.80 403.20L302.27 403.01L302.74 402.80L303.20 402.60L303.60 401.30L304.07 401.13L304.55 400.95L305.02 400.77L305.49 400.58L305.95 400.39L306.42 400.20L306.88 400.00L307.34 399.80L307.80 399.59L308.26 399.38L308.71 399.17L309.17 398.95L309.63 398.73L310.08 398.51L310.53 398.27L310.97 398.03L311.41 397.79L311.84 397.53L312.26 397.27L312.68 396.99L313.10 396.71L313.52 396.41L313.93 396.11L314.33 395.80L314.73 395.48L315.11 395.15L315.48 394.81L315.84 394.46L316.18 394.11L316.52 393.75L316.85 393.37L317.18 392.98L317.51 392.58L317.82 392.17L318.12 391.75L318.41 391.33L318.68 390.89L318.93 390.46L319.15 390.02L319.35 389.57L319.54 389.12L319.72 388.66L319.90 388.19L320.06 387.71L320.22 387.23L320.36 386.74L320.50 386.24L320.63 385.75L320.75 385.25L320.86 384.76L320.97 384.27L321.06 383.78L321.15 383.28L321.24 382.79L321.32 382.30L321.40 381.80L321.48 381.30L321.55 380.80L321.63 380.30L321.69 379.80L321.76 379.30L321.82 378.80L321.88 378.30L321.93 377.79L321.98 377.29L322.03 376.79L322.08 376.29L322.13 375.79L322.17 375.29L322.22 374.79L322.26 374.28L322.30 373.78L322.34 373.28L322.37 372.78L322.41 372.27L322.44 371.77L322.48 371.27L322.51 370.77L322.54 370.26L322.57 369.76L322.59 369.26L322.62 368.75L322.64 368.25L322.66 367.75L322.68 367.25L322.70 366.74L322.72 366.24L322.74 365.74L322.76 365.23L322.77 364.73L322.79 364.23L322.81 363.72L322.82 363.22L322.84 362.72L322.85 362.21L322.87 361.71L322.88 361.21L322.89 360.70L322.91 360.20L322.92 359.70L322.93 359.19L322.95 358.69L322.96 358.19L322.97 357.68L322.98 357.18L322.99 356.68L323.01 356.17L323.02 355.67L323.03 355.17L323.04 354.66L323.05 354.16L323.06 353.66L323.07 353.15L323.09 352.65L323.10 352.14L323.11 351.64L323.12 351.14L323.13 350.63L323.14 350.13L323.15 349.63L323.16 349.12L323.18 348.62L323.19 348.12L323.20 347.61L323.21 347.11L323.22 346.61L323.23 346.10L323.24 345.60L323.25 345.10L323.26 344.59L323.27 344.09L323.28 343.59L323.29 343.08L323.30 342.58L323.31 342.08L323.32 341.57L323.33 341.07L323.34 340.57L323.35 340.06L323.36 339.56L323.37 339.06L323.38 338.55L323.39 338.05L323.40 337.55L323.41 337.04L323.41 336.54L323.42 336.03L323.43 335.53L323.44 335.03L323.45 334.52L323.46 334.02L323.46 333.52L323.47 333.01L323.48 332.51L323.49 332.01L323.49 331.50L323.50 331.00L323.50 331.00L323.51 331.50L323.52 332.00L323.53 332.51L323.54 333.01L323.55 333.51L323.56 334.01L323.57 334.51L323.59 335.02L323.60 335.52L323.61 336.02L323.62 336.52L323.63 337.02L323.64 337.52L323.65 338.03L323.66 338.53L323.67 339.03L323.68 339.53L323.69 340.03L323.70 340.54L323.71 341.04L323.72 341.54L323.74 342.04L323.75 342.54L323.76 343.05L323.77 343.55L323.78 344.05L323.79 344.55L323.80 345.05L323.81 345.55L323.82 346.06L323.83 346.56L323.84 347.06L323.85 347.56L323.86 348.06L323.88 348.57L323.89 349.07L323.90 349.57L323.91 350.07L323.92 350.57L323.93 351.08L323.94 351.58L323.95 352.08L323.96 352.58L323.97 353.08L323.98 353.59L323.99 354.09L324.00 354.59L324.01 355.09L324.02 355.59L324.03 356.09L324.04 356.60L324.05 357.10L324.06 357.60L324.07 358.10L324.08 358.60L324.09 359.11L324.10 359.61L324.11 360.11L324.12 360.61L324.13 361.11L324.15 361.62L324.16 362.12L324.17 362.62L324.18 363.12L324.19 363.62L324.20 364.13L324.21 364.63L324.22 365.13L324.24 365.63L324.25 366.13L324.26 366.63L324.28 367.14L324.29 367.64L324.30 368.14L324.32 368.64L324.33 369.14L324.35 369.65L324.36 370.15L324.38 370.65L324.40 371.15L324.42 371.65L324.43 372.15L324.45 372.66L324.47 373.16L324.49 373.66L324.51 374.16L324.53 374.66L324.56 375.16L324.58 375.66L324.60 376.17L324.63 376.67L324.65 377.17L324.68 377.67L324.71 378.17L324.74 378.67L324.77 379.18L324.80 379.68L324.83 380.18L324.86 380.68L324.90 381.18L324.93 381.68L324.97 382.18L325.00 382.69L325.04 383.19L325.08 383.69L325.13 384.19L325.17 384.69L325.21 385.19L325.26 385.69L325.31 386.19L325.35 386.69L325.40 387.18L325.46 387.68L325.51 388.18L325.57 388.68L325.63 389.17L325.70 389.67L325.77 390.17L325.84 390.67L325.93 391.16L326.01 391.66L326.10 392.15L326.19 392.65L326.28 393.14L326.38 393.64L326.48 394.13L326.58 394.62L326.69 395.11L326.79 395.60L326.90 396.09L327.01 396.58L327.12 397.07L327.24 397.56L327.36 398.04L327.49 398.53L327.62 399.02L327.75 399.51L327.89 399.99L328.04 400.48L328.18 400.96L328.34 401.44L328.49 401.92L328.65 402.39L328.81 402.87L328.98 403.34L329.15 403.81L329.33 404.27L329.51 404.74L329.70 405.21L329.89 405.68L330.10 406.14L330.31 406.61L330.53 407.07L330.75 407.53L330.99 407.98L331.23 408.42L331.48 408.85L331.74 409.27L332.01 409.67L332.29 410.07L332.59 410.46L332.90 410.85L333.22 411.23L333.56 411.61L333.91 411.98L334.27 412.35L334.65 412.71L335.03 413.06L335.41 413.41L335.80 413.74L336.20 414.06L336.60 414.37L337.01 414.66L337.41 414.95L337.82 415.21L338.23 415.46L338.65 415.71L339.07 415.95L339.51 416.18L339.95 416.40L340.40 416.62L340.86 416.83L341.32 417.04L341.78 417.24L342.25 417.44L342.72 417.63L343.20 417.82L343.68 418.00L344.15 418.19L344.63 418.37L345.11 418.55L345.59 418.73L346.06 418.91L346.53 419.09L347.00 419.26L347.47 419.44L347.94 419.62L348.41 419.79L348.88 419.97L349.35 420.14L349.83 420.31L350.30 420.48L350.77 420.64L351.25 420.81L351.72 420.97L352.20 421.13L352.68 421.29L353.15 421.45L353.63 421.61L354.11 421.76L354.59 421.91L355.07 422.06L355.55 422.21L356.03 422.36L356.51 422.50L356.99 422.65L357.47 422.79L357.95 422.93L358.43 423.07L358.92 423.20L359.40 423.34L359.88 423.47L360.37 423.60L360.85 423.73L361.34 423.85L361.82 423.98L362.31 424.10L362.80 424.23L363.29 424.35L363.77 424.47L364.26 424.59L364.75 424.71L365.24 424.82L365.73 424.94L366.22 425.06L366.71 425.17L367.19 425.29L367.68 425.40L368.17 425.52L368.66 425.63L369.15 425.74L369.64 425.86L370.13 425.97L370.62 426.08L371.11 426.19L371.60 426.30L372.09 426.41L372.58 426.52L373.07 426.63L373.56 426.74L374.05 426.85L374.54 426.96L375.03 427.07L375.52 427.17L376.01 427.28L376.50 427.39L376.99 427.49L377.48 427.59L377.97 427.70L378.46 427.80L378.95 427.90L379.45 428.00L379.94 428.11L380.43 428.21L380.92 428.31L381.41 428.40L381.91 428.50L382.40 428.60" fill="none" stroke="#1c1c94" stroke-width="1.5" stroke-linejoin="round"/>
<path d="M225.10 403.20L225.61 403.23L226.12 403.26L226.62 403.28L227.13 403.31L227.64 403.33L228.15 403.36L228.65 403.38L229.16 403.40L229.67 403.42L230.18 403.44L230.69 403.46L231.19 403.48L231.70 403.50L232.21 403.52L232.72 403.53L233.22 403.55L233.73 403.56L234.24 403.58L234.75 403.59L235.25 403.60L235.76 403.61L236.27 403.62L236.78 403.63L237.29 403.64L237.79 403.65L238.30 403.66L238.81 403.67L239.32 403.67L239.82 403.68L240.33 403.68L240.84 403.69L241.35 403.69L241.86 403.69L242.36 403.70L242.87 403.70L243.38 403.70L243.89 403.70L244.39 403.70L244.90 403.70L245.41 403.69L245.92 403.69L246.43 403.68L246.93 403.68L247.44 403.67L247.95 403.66L248.46 403.65L248.97 403.64L249.47 403.63L249.98 403.61L250.49 403.60L251.00 403.58L251.51 403.57L252.01 403.55L252.52 403.54L253.03 403.52L253.54 403.50L254.04 403.48L254.55 403.47L255.06 403.45L255.57 403.43L256.07 403.41L256.58 403.39L257.09 403.37L257.60 403.35L258.10 403.33L258.61 403.31L259.12 403.28L259.63 403.26L260.14 403.23L260.65 403.20L261.16 403.17L261.67 403.14L262.18 403.11L262.69 403.07L263.19 403.04L263.70 403.00L264.21 402.96L264.72 402.92L265.22 402.87L265.73 402.83L266.23 402.78L266.74 402.73L267.24 402.68L267.74 402.62L268.24 402.57L268.74 402.51L269.24 402.44L269.74 402.36L270.25 402.27L270.75 402.17L271.26 402.06L271.76 401.94L272.26 401.81L272.76 401.67L273.25 401.52L273.73 401.36L274.21 401.20L274.67 401.03L275.12 400.85L275.58 400.65L276.04 400.42L276.50 400.17L276.96 399.89L277.41 399.60L277.84 399.29L278.25 398.96L278.64 398.62L278.99 398.27L279.31 397.92L279.59 397.55L279.86 397.14L280.11 396.70L280.36 396.24L280.58 395.76L280.78 395.28L280.96 394.78L281.12 394.29L281.25 393.81L281.37 393.33L281.48 392.83L281.59 392.34L281.68 391.84L281.75 391.33L281.81 390.82L281.85 390.30L281.85 390.30L281.87 390.83L281.90 391.35L281.95 391.87L282.01 392.39L282.09 392.90L282.17 393.42L282.26 393.92L282.36 394.43L282.46 394.93L282.57 395.43L282.68 395.93L282.80 396.42L282.94 396.93L283.10 397.44L283.28 397.95L283.48 398.44L283.69 398.93L283.92 399.39L284.16 399.83L284.42 400.23L284.72 400.62L285.06 401.01L285.44 401.38L285.85 401.74L286.28 402.07L286.72 402.37L287.17 402.63L287.61 402.85L288.07 403.06L288.55 403.25L289.04 403.43L289.54 403.60L290.05 403.75L290.57 403.87L291.08 403.95L291.59 404.01L292.10 404.05L292.61 404.08L293.13 404.11L293.65 404.14L294.17 404.16L294.69 404.18L295.21 404.19L295.72 404.20L296.23 404.20L296.74 404.17L297.24 404.13L297.75 404.06L298.25 403.97L298.75 403.87L299.25 403.74L299.75 403.60L300.25 403.44L300.75 403.26L301.24 403.07L301.73 402.87L302.22 402.66L302.71 402.43L303.20 402.20L303.60 400.90L304.09 400.78L304.58 400.65L305.06 400.51L305.55 400.38L306.03 400.23L306.51 400.08L306.99 399.93L307.47 399.78L307.95 399.62L308.42 399.46L308.90 399.29L309.37 399.12L309.85 398.94L310.32 398.76L310.79 398.57L311.25 398.37L311.71 398.16L312.16 397.95L312.61 397.72L313.06 397.49L313.50 397.24L313.94 396.99L314.38 396.72L314.81 396.45L315.23 396.16L315.63 395.87L316.02 395.57L316.40 395.25L316.77 394.92L317.15 394.58L317.52 394.23L317.89 393.86L318.24 393.49L318.58 393.10L318.91 392.71L319.23 392.30L319.53 391.90L319.80 391.49L320.06 391.07L320.30 390.65L320.53 390.22L320.75 389.77L320.96 389.32L321.17 388.85L321.37 388.38L321.56 387.90L321.73 387.42L321.90 386.94L322.06 386.45L322.21 385.96L322.35 385.48L322.48 384.99L322.59 384.51L322.71 384.02L322.82 383.54L322.92 383.05L323.02 382.55L323.12 382.06L323.22 381.56L323.31 381.07L323.39 380.57L323.48 380.07L323.56 379.57L323.63 379.07L323.70 378.56L323.77 378.06L323.83 377.56L323.89 377.06L323.95 376.56L324.00 376.06L324.05 375.56L324.10 375.06L324.15 374.56L324.19 374.06L324.24 373.56L324.28 373.05L324.31 372.55L324.35 372.05L324.39 371.55L324.42 371.04L324.45 370.54L324.49 370.04L324.52 369.53L324.54 369.03L324.57 368.53L324.60 368.03L324.62 367.52L324.65 367.02L324.67 366.52L324.70 366.02L324.72 365.51L324.74 365.01L324.77 364.51L324.79 364.00L324.81 363.50L324.83 363.00L324.85 362.49L324.87 361.99L324.89 361.49L324.91 360.98L324.93 360.48L324.95 359.98L324.97 359.48L324.99 358.97L325.00 358.47L325.02 357.97L325.04 357.46L325.05 356.96L325.07 356.46L325.08 355.95L325.10 355.45L325.12 354.95L325.13 354.44L325.15 353.94L325.16 353.44L325.17 352.93L325.19 352.43L325.20 351.93L325.22 351.42L325.23 350.92L325.24 350.42L325.26 349.91L325.27 349.41L325.28 348.91L325.30 348.40L325.31 347.90L325.32 347.40L325.33 346.89L325.35 346.39L325.36 345.89L325.37 345.38L325.38 344.88L325.40 344.38L325.41 343.87L325.42 343.37L325.43 342.87L325.44 342.36L325.45 341.86L325.46 341.36L325.47 340.85L325.48 340.35L325.49 339.85L325.50 339.34L325.51 338.84L325.52 338.33L325.53 337.83L325.54 337.33L325.55 336.82L325.56 336.32L325.56 335.82L325.57 335.31L325.58 334.81L325.59 334.31L325.59 333.80L325.60 333.30L325.60 333.30L325.62 333.80L325.64 334.31L325.66 334.81L325.68 335.31L325.70 335.82L325.71 336.32L325.73 336.82L325.75 337.33L325.77 337.83L325.79 338.33L325.81 338.84L325.82 339.34L325.84 339.84L325.86 340.35L325.88 340.85L325.90 341.35L325.91 341.86L325.93 342.36L325.95 342.86L325.97 343.37L325.98 343.87L326.00 344.37L326.02 344.88L326.04 345.38L326.05 345.88L326.07 346.39L326.09 346.89L326.10 347.39L326.12 347.90L326.14 348.40L326.15 348.90L326.17 349.41L326.18 349.91L326.20 350.42L326.22 350.92L326.23 351.42L326.25 351.93L326.26 352.43L326.28 352.93L326.29 353.44L326.31 353.94L326.32 354.44L326.34 354.95L326.35 355.45L326.36 355.95L326.38 356.46L326.39 356.96L326.41 357.46L326.42 357.97L326.43 358.47L326.45 358.97L326.46 359.48L326.47 359.98L326.48 360.48L326.50 360.99L326.51 361.49L326.53 362.00L326.54 362.50L326.55 363.00L326.57 363.51L326.58 364.01L326.59 364.51L326.61 365.02L326.62 365.52L326.64 366.02L326.65 366.53L326.67 367.03L326.69 367.53L326.70 368.04L326.72 368.54L326.73 369.04L326.75 369.55L326.77 370.05L326.78 370.55L326.80 371.06L326.82 371.56L326.84 372.06L326.86 372.57L326.88 373.07L326.89 373.57L326.91 374.08L326.94 374.58L326.96 375.08L326.98 375.59L327.00 376.09L327.02 376.59L327.04 377.10L327.07 377.60L327.09 378.10L327.11 378.61L327.14 379.11L327.16 379.62L327.18 380.12L327.21 380.62L327.24 381.13L327.26 381.63L327.29 382.13L327.32 382.64L327.35 383.14L327.38 383.64L327.41 384.15L327.44 384.65L327.47 385.15L327.51 385.65L327.54 386.15L327.58 386.66L327.62 387.16L327.66 387.66L327.71 388.16L327.75 388.66L327.80 389.16L327.86 389.66L327.92 390.16L327.98 390.66L328.05 391.16L328.12 391.67L328.19 392.17L328.27 392.66L328.35 393.16L328.44 393.66L328.53 394.16L328.62 394.65L328.71 395.15L328.81 395.64L328.91 396.13L329.01 396.62L329.13 397.10L329.25 397.59L329.39 398.08L329.53 398.56L329.68 399.05L329.83 399.53L329.99 400.01L330.15 400.49L330.32 400.97L330.48 401.44L330.65 401.92L330.82 402.39L330.99 402.86L331.17 403.34L331.34 403.82L331.52 404.30L331.70 404.78L331.89 405.26L332.08 405.74L332.28 406.21L332.48 406.68L332.69 407.14L332.91 407.59L333.14 408.03L333.37 408.46L333.62 408.87L333.88 409.28L334.15 409.68L334.44 410.08L334.74 410.48L335.05 410.88L335.38 411.27L335.72 411.66L336.07 412.05L336.42 412.43L336.79 412.81L337.16 413.17L337.55 413.54L337.94 413.89L338.33 414.23L338.73 414.56L339.13 414.89L339.54 415.20L339.94 415.49L340.35 415.78L340.76 416.05L341.17 416.31L341.58 416.55L342.00 416.78L342.42 417.00L342.85 417.22L343.29 417.44L343.73 417.64L344.18 417.84L344.64 418.04L345.10 418.23L345.57 418.42L346.04 418.60L346.52 418.78L347.00 418.95L347.48 419.12L347.97 419.29L348.46 419.46L348.95 419.62L349.44 419.77L349.94 419.93L350.43 420.08L350.92 420.23L351.42 420.38L351.91 420.53L352.40 420.68L352.89 420.82L353.38 420.97L353.87 421.11L354.35 421.26L354.83 421.40L355.31 421.54L355.80 421.68L356.28 421.82L356.76 421.96L357.25 422.09L357.73 422.23L358.22 422.36L358.70 422.49L359.19 422.62L359.68 422.75L360.17 422.87L360.66 423.00L361.15 423.12L361.63 423.24L362.12 423.36L362.62 423.48L363.11 423.60L363.60 423.72L364.09 423.83L364.58 423.95L365.07 424.06L365.56 424.17L366.06 424.28L366.55 424.39L367.04 424.50L367.53 424.61L368.03 424.71L368.52 424.82L369.01 424.92L369.50 425.02L370.00 425.12L370.49 425.22L370.98 425.32L371.48 425.42L371.97 425.52L372.46 425.61L372.96 425.71L373.45 425.80L373.95 425.89L374.44 425.99L374.94 426.08L375.43 426.17L375.93 426.26L376.43 426.34L376.92 426.43L377.42 426.51L377.92 426.60L378.41 426.68L378.91 426.76L379.41 426.84L379.91 426.92L380.40 427.00L380.90 427.08L381.40 427.15L381.90 427.23L382.40 427.30" fill="none" stroke="#ff8510" stroke-width="1.6" stroke-linejoin="round" stroke-dasharray="1.2 1.1"/>
<path d="M225.10 395.00L225.60 395.06L226.10 395.12L226.60 395.17L227.10 395.23L227.61 395.28L228.11 395.33L228.61 395.38L229.11 395.43L229.61 395.48L230.11 395.53L230.61 395.57L231.12 395.62L231.62 395.66L232.12 395.70L232.62 395.74L233.12 395.78L233.63 395.82L234.13 395.85L234.63 395.89L235.13 395.92L235.63 395.95L236.14 395.98L236.64 396.01L237.14 396.04L237.64 396.07L238.15 396.09L238.65 396.12L239.15 396.14L239.66 396.17L240.16 396.19L240.66 396.21L241.16 396.23L241.67 396.25L242.17 396.27L242.68 396.28L243.18 396.29L243.68 396.30L244.19 396.30L244.69 396.30L245.19 396.30L245.70 396.29L246.20 396.29L246.71 396.28L247.21 396.27L247.72 396.26L248.22 396.25L248.73 396.24L249.23 396.22L249.74 396.21L250.24 396.19L250.75 396.17L251.25 396.15L251.76 396.13L252.26 396.11L252.76 396.09L253.27 396.07L253.77 396.04L254.27 396.02L254.77 395.99L255.27 395.96L255.77 395.94L256.27 395.91L256.76 395.88L257.26 395.83L257.77 395.78L258.27 395.71L258.78 395.64L259.28 395.55L259.79 395.46L260.29 395.36L260.79 395.25L261.29 395.13L261.79 395.01L262.28 394.88L262.77 394.74L263.25 394.60L263.73 394.45L264.20 394.30L264.66 394.15L265.12 393.99L265.58 393.82L266.04 393.62L266.50 393.41L266.97 393.17L267.43 392.91L267.89 392.64L268.33 392.35L268.76 392.04L269.18 391.73L269.57 391.41L269.95 391.08L270.30 390.74L270.61 390.40L270.91 390.05L271.20 389.67L271.48 389.27L271.76 388.86L272.03 388.42L272.28 387.97L272.53 387.50L272.76 387.03L272.98 386.55L273.18 386.06L273.37 385.57L273.53 385.08L273.67 384.60L273.79 384.12L273.90 383.65L274.00 383.17L274.09 382.68L274.18 382.19L274.26 381.70L274.34 381.20L274.42 380.70L274.49 380.20L274.55 379.70L274.62 379.19L274.68 378.68L274.73 378.18L274.79 377.67L274.84 377.16L274.89 376.65L274.93 376.15L274.98 375.65L275.02 375.15L275.07 374.65L275.11 374.14L275.15 373.64L275.19 373.14L275.23 372.64L275.27 372.14L275.31 371.64L275.34 371.13L275.38 370.63L275.41 370.13L275.44 369.63L275.47 369.12L275.50 368.62L275.52 368.12L275.55 367.61L275.57 367.11L275.58 366.60L275.60 366.10L275.60 366.10L275.62 366.61L275.63 367.12L275.66 367.63L275.68 368.13L275.70 368.64L275.73 369.15L275.76 369.66L275.78 370.17L275.82 370.67L275.85 371.18L275.88 371.69L275.92 372.20L275.95 372.70L275.99 373.21L276.03 373.72L276.07 374.22L276.11 374.73L276.15 375.23L276.20 375.74L276.24 376.25L276.28 376.75L276.33 377.26L276.38 377.76L276.42 378.27L276.47 378.77L276.52 379.28L276.57 379.78L276.62 380.29L276.67 380.80L276.72 381.31L276.77 381.81L276.83 382.32L276.89 382.83L276.95 383.34L277.01 383.85L277.08 384.36L277.15 384.87L277.22 385.37L277.29 385.88L277.37 386.38L277.45 386.88L277.53 387.38L277.62 387.88L277.71 388.38L277.80 388.87L277.90 389.36L278.00 389.85L278.11 390.34L278.22 390.83L278.35 391.32L278.49 391.82L278.64 392.32L278.80 392.81L278.98 393.31L279.16 393.80L279.36 394.29L279.56 394.77L279.77 395.25L279.99 395.71L280.23 396.17L280.46 396.61L280.71 397.04L280.97 397.45L281.23 397.84L281.52 398.22L281.85 398.59L282.20 398.95L282.59 399.30L282.99 399.64L283.40 399.97L283.83 400.28L284.25 400.58L284.66 400.87L285.07 401.15L285.49 401.43L285.92 401.70L286.35 401.97L286.79 402.23L287.23 402.49L287.68 402.74L288.13 402.98L288.58 403.22L289.04 403.45L289.50 403.68L289.97 403.90L290.43 404.11L290.90 404.31L291.37 404.51L291.84 404.70L292.31 404.88L292.78 405.04L293.27 405.20L293.75 405.34L294.24 405.48L294.73 405.62L295.23 405.76L295.72 405.90L296.21 406.04L296.69 406.19L297.17 406.36L297.65 406.53L298.12 406.71L298.60 406.89L299.07 407.07L299.54 407.26L300.01 407.45L300.48 407.65L300.95 407.85L301.41 408.06L301.88 408.27L302.34 408.48L302.80 408.70L303.90 404.90L304.39 404.77L304.88 404.64L305.37 404.52L305.86 404.40L306.35 404.28L306.85 404.16L307.34 404.05L307.83 403.94L308.33 403.83L308.83 403.74L309.34 403.65L309.85 403.57L310.36 403.49L310.87 403.41L311.37 403.32L311.86 403.22L312.35 403.11L312.82 402.98L313.28 402.84L313.73 402.63L314.16 402.38L314.58 402.10L315.00 401.79L315.42 401.48L315.84 401.18L316.26 400.89L316.69 400.62L317.12 400.35L317.55 400.07L317.98 399.80L318.41 399.53L318.84 399.25L319.26 398.97L319.67 398.68L320.08 398.39L320.48 398.08L320.88 397.77L321.26 397.45L321.65 397.12L322.04 396.78L322.42 396.44L322.80 396.09L323.17 395.73L323.52 395.36L323.87 394.99L324.20 394.61L324.52 394.22L324.81 393.82L325.09 393.42L325.36 393.00L325.62 392.58L325.88 392.14L326.13 391.69L326.37 391.23L326.60 390.77L326.82 390.31L327.03 389.84L327.22 389.36L327.41 388.89L327.59 388.42L327.75 387.95L327.91 387.47L328.06 387.00L328.21 386.51L328.35 386.03L328.49 385.54L328.63 385.05L328.76 384.56L328.88 384.06L329.00 383.57L329.12 383.07L329.23 382.57L329.33 382.07L329.43 381.58L329.53 381.08L329.62 380.58L329.70 380.08L329.79 379.58L329.87 379.09L329.95 378.59L330.03 378.09L330.11 377.59L330.18 377.09L330.26 376.58L330.33 376.08L330.40 375.58L330.46 375.07L330.53 374.57L330.58 374.07L330.64 373.56L330.69 373.06L330.74 372.55L330.79 372.05L330.83 371.54L330.86 371.04L330.89 370.54L330.92 370.03L330.95 369.53L330.97 369.02L331.00 368.52L331.02 368.01L331.05 367.51L331.07 367.00L331.09 366.50L331.12 366.00L331.14 365.49L331.16 364.99L331.18 364.48L331.20 363.98L331.22 363.47L331.24 362.96L331.26 362.46L331.28 361.95L331.30 361.45L331.32 360.94L331.33 360.44L331.35 359.93L331.37 359.42L331.38 358.92L331.39 358.41L331.41 357.90L331.42 357.40L331.43 356.89L331.44 356.38L331.45 355.88L331.46 355.37L331.47 354.86L331.48 354.36L331.48 353.85L331.49 353.34L331.49 352.83L331.50 352.32L331.50 351.82L331.50 351.31L331.50 350.80L331.50 350.80L331.52 351.30L331.54 351.80L331.56 352.31L331.58 352.81L331.60 353.31L331.62 353.81L331.64 354.32L331.66 354.82L331.68 355.32L331.71 355.82L331.73 356.32L331.75 356.83L331.77 357.33L331.80 357.83L331.82 358.33L331.84 358.83L331.87 359.34L331.89 359.84L331.91 360.34L331.94 360.84L331.96 361.34L331.99 361.85L332.01 362.35L332.04 362.85L332.06 363.35L332.09 363.85L332.11 364.35L332.14 364.86L332.17 365.36L332.19 365.86L332.22 366.36L332.25 366.86L332.28 367.37L332.31 367.87L332.34 368.37L332.37 368.87L332.40 369.37L332.43 369.87L332.46 370.38L332.49 370.88L332.52 371.38L332.56 371.88L332.59 372.38L332.62 372.88L332.65 373.38L332.68 373.89L332.71 374.39L332.74 374.89L332.76 375.39L332.79 375.89L332.81 376.40L332.84 376.90L332.86 377.40L332.88 377.90L332.90 378.40L332.92 378.91L332.94 379.41L332.96 379.91L332.97 380.41L332.99 380.92L333.01 381.42L333.02 381.92L333.04 382.42L333.06 382.93L333.08 383.43L333.10 383.93L333.12 384.43L333.14 384.94L333.16 385.44L333.18 385.94L333.21 386.44L333.23 386.94L333.26 387.44L333.29 387.94L333.32 388.45L333.36 388.95L333.39 389.45L333.43 389.95L333.47 390.45L333.52 390.95L333.57 391.46L333.62 391.96L333.67 392.46L333.72 392.96L333.78 393.46L333.84 393.96L333.90 394.46L333.97 394.96L334.03 395.46L334.10 395.96L334.17 396.45L334.25 396.95L334.32 397.45L334.40 397.94L334.48 398.43L334.57 398.92L334.66 399.41L334.76 399.90L334.87 400.39L334.99 400.88L335.12 401.37L335.25 401.86L335.39 402.34L335.54 402.83L335.68 403.31L335.84 403.79L335.99 404.27L336.15 404.75L336.31 405.23L336.47 405.70L336.63 406.18L336.80 406.65L336.98 407.12L337.16 407.59L337.35 408.06L337.55 408.52L337.76 408.98L337.97 409.43L338.19 409.88L338.41 410.34L338.64 410.80L338.88 411.27L339.12 411.74L339.36 412.21L339.62 412.67L339.88 413.12L340.16 413.55L340.44 413.97L340.73 414.36L341.04 414.72L341.35 415.06L341.68 415.36L342.03 415.65L342.40 415.92L342.79 416.19L343.20 416.44L343.62 416.69L344.05 416.93L344.50 417.16L344.96 417.38L345.43 417.60L345.91 417.81L346.39 418.01L346.88 418.22L347.37 418.41L347.86 418.61L348.36 418.81L348.84 419.00L349.33 419.19L349.81 419.39L350.28 419.58L350.75 419.78L351.21 419.98L351.67 420.17L352.13 420.37L352.59 420.57L353.06 420.76L353.52 420.96L353.99 421.15L354.45 421.34L354.92 421.53L355.38 421.72L355.85 421.91L356.32 422.10L356.79 422.28L357.26 422.47L357.73 422.65L358.20 422.83L358.67 423.01L359.14 423.19L359.61 423.36L360.09 423.53L360.56 423.70L361.04 423.87L361.51 424.04L361.99 424.20L362.46 424.37L362.94 424.53L363.41 424.68L363.89 424.84L364.37 424.99L364.85 425.14L365.33 425.29L365.80 425.43L366.28 425.57L366.76 425.72L367.24 425.86L367.72 425.99L368.21 426.13L368.69 426.27L369.17 426.41L369.65 426.54L370.14 426.67L370.62 426.81L371.11 426.94L371.59 427.06L372.08 427.19L372.56 427.32L373.05 427.44L373.54 427.57L374.03 427.69L374.51 427.81L375.00 427.93L375.49 428.05L375.98 428.16L376.47 428.28L376.96 428.39L377.45 428.50L377.95 428.61L378.44 428.71L378.93 428.82L379.43 428.92L379.92 429.02L380.42 429.12L380.91 429.22L381.41 429.32L381.90 429.41L382.40 429.50" fill="none" stroke="#8a108a" stroke-width="1.5" stroke-linejoin="round"/>
<path d="M225.10 386.20L225.61 386.20L226.12 386.20L226.63 386.19L227.14 386.19L227.65 386.18L228.16 386.18L228.66 386.17L229.17 386.16L229.68 386.15L230.18 386.13L230.69 386.12L231.20 386.11L231.70 386.09L232.20 386.08L232.71 386.06L233.21 386.04L233.71 386.02L234.22 386.00L234.72 385.98L235.22 385.96L235.72 385.93L236.22 385.91L236.72 385.88L237.22 385.86L237.72 385.83L238.22 385.80L238.72 385.77L239.23 385.73L239.73 385.68L240.24 385.62L240.75 385.55L241.26 385.48L241.77 385.39L242.28 385.30L242.79 385.20L243.29 385.09L243.80 384.97L244.29 384.85L244.79 384.73L245.28 384.59L245.77 384.46L246.25 384.31L246.72 384.17L247.19 384.01L247.65 383.86L248.10 383.70L248.55 383.53L249.01 383.33L249.48 383.10L249.94 382.85L250.41 382.58L250.87 382.29L251.32 381.98L251.75 381.66L252.17 381.33L252.56 380.99L252.92 380.64L253.26 380.29L253.56 379.93L253.82 379.57L254.06 379.20L254.29 378.80L254.52 378.39L254.73 377.95L254.94 377.51L255.14 377.04L255.33 376.57L255.51 376.08L255.69 375.59L255.85 375.08L256.01 374.58L256.17 374.06L256.31 373.55L256.45 373.04L256.58 372.52L256.70 372.01L256.81 371.51L256.92 371.01L257.02 370.52L257.11 370.03L257.20 369.54L257.29 369.05L257.38 368.55L257.47 368.06L257.55 367.56L257.63 367.06L257.71 366.56L257.79 366.06L257.86 365.56L257.93 365.06L258.00 364.56L258.07 364.06L258.13 363.55L258.20 363.05L258.26 362.54L258.31 362.04L258.37 361.53L258.42 361.03L258.47 360.52L258.51 360.02L258.56 359.51L258.60 359.01L258.64 358.50L258.67 358.00L258.71 357.50L258.74 357.00L258.77 356.49L258.80 355.99L258.83 355.49L258.87 354.99L258.90 354.48L258.93 353.98L258.96 353.48L258.99 352.97L259.02 352.47L259.05 351.97L259.08 351.46L259.10 350.96L259.13 350.46L259.16 349.95L259.19 349.45L259.21 348.94L259.24 348.44L259.26 347.94L259.29 347.43L259.31 346.93L259.33 346.42L259.35 345.92L259.38 345.41L259.40 344.91L259.42 344.41L259.43 343.90L259.45 343.40L259.47 342.89L259.48 342.39L259.50 341.88L259.51 341.37L259.53 340.87L259.54 340.36L259.55 339.86L259.56 339.35L259.57 338.85L259.58 338.34L259.58 337.83L259.59 337.33L259.59 336.82L259.60 336.31L259.60 335.81L259.60 335.30L259.60 335.30L259.61 335.80L259.62 336.31L259.64 336.81L259.65 337.31L259.67 337.82L259.68 338.32L259.70 338.82L259.71 339.32L259.73 339.83L259.75 340.33L259.76 340.83L259.78 341.34L259.80 341.84L259.82 342.34L259.84 342.84L259.86 343.35L259.88 343.85L259.90 344.35L259.92 344.85L259.94 345.36L259.97 345.86L259.99 346.36L260.01 346.86L260.04 347.37L260.06 347.87L260.09 348.37L260.11 348.87L260.14 349.38L260.16 349.88L260.19 350.38L260.21 350.88L260.24 351.39L260.27 351.89L260.29 352.39L260.32 352.89L260.35 353.39L260.38 353.90L260.41 354.40L260.44 354.90L260.47 355.40L260.49 355.90L260.52 356.41L260.55 356.91L260.58 357.41L260.61 357.91L260.64 358.41L260.68 358.92L260.71 359.42L260.74 359.92L260.77 360.42L260.80 360.92L260.83 361.42L260.86 361.93L260.90 362.43L260.93 362.93L260.96 363.43L260.99 363.93L261.02 364.44L261.06 364.94L261.09 365.44L261.12 365.95L261.15 366.45L261.19 366.96L261.22 367.46L261.26 367.97L261.29 368.47L261.33 368.97L261.37 369.48L261.40 369.98L261.44 370.49L261.48 370.99L261.52 371.50L261.57 372.00L261.61 372.50L261.65 373.00L261.70 373.51L261.75 374.01L261.79 374.51L261.84 375.01L261.90 375.51L261.95 376.01L262.00 376.51L262.06 377.00L262.12 377.50L262.18 378.00L262.24 378.49L262.30 378.98L262.37 379.48L262.44 379.97L262.51 380.46L262.59 380.95L262.67 381.44L262.76 381.93L262.86 382.43L262.97 382.92L263.09 383.41L263.21 383.91L263.34 384.40L263.48 384.89L263.62 385.38L263.77 385.87L263.92 386.36L264.08 386.85L264.24 387.33L264.41 387.81L264.58 388.29L264.76 388.76L264.94 389.24L265.12 389.70L265.31 390.17L265.50 390.63L265.69 391.08L265.88 391.54L266.08 391.98L266.29 392.43L266.51 392.87L266.75 393.31L267.00 393.74L267.26 394.18L267.52 394.61L267.80 395.04L268.09 395.46L268.38 395.88L268.68 396.30L268.99 396.71L269.29 397.12L269.61 397.52L269.92 397.92L270.24 398.31L270.56 398.69L270.88 399.07L271.20 399.45L271.53 399.82L271.86 400.19L272.20 400.55L272.55 400.91L272.90 401.27L273.26 401.62L273.63 401.97L274.00 402.32L274.37 402.67L274.75 403.01L275.13 403.34L275.51 403.68L275.90 404.01L276.29 404.34L276.68 404.66L277.07 404.98L277.46 405.30L277.86 405.61L278.25 405.92L278.65 406.23L279.04 406.53L279.44 406.84L279.84 407.14L280.24 407.44L280.64 407.74L281.05 408.03L281.46 408.33L281.87 408.62L282.28 408.91L282.70 409.20L283.12 409.49L283.54 409.77L283.96 410.05L284.38 410.33L284.81 410.61L285.23 410.88L285.66 411.15L286.09 411.42L286.53 411.68L286.96 411.94L287.40 412.19L287.83 412.44L288.27 412.69L288.71 412.93L289.15 413.16L289.60 413.39L290.04 413.62L290.49 413.84L290.94 414.05L291.40 414.25L291.86 414.44L292.34 414.63L292.81 414.80L293.29 414.98L293.76 415.15L294.24 415.33L294.71 415.50L295.19 415.69L295.65 415.88L296.11 416.07L296.56 416.28L297.01 416.50L297.44 416.74L297.88 416.98L298.31 417.23L298.73 417.50L299.15 417.77L299.57 418.05L299.99 418.33L300.40 418.63L300.81 418.93L301.21 419.24L301.61 419.55L302.01 419.87L302.40 420.20L303.70 413.90L304.20 413.96L304.71 414.01L305.21 414.07L305.71 414.12L306.22 414.17L306.72 414.22L307.23 414.27L307.73 414.31L308.23 414.36L308.74 414.40L309.24 414.43L309.75 414.47L310.25 414.50L310.76 414.53L311.26 414.55L311.76 414.57L312.27 414.58L312.77 414.59L313.28 414.60L313.78 414.60L314.29 414.60L314.79 414.60L315.30 414.59L315.80 414.59L316.31 414.59L316.81 414.58L317.32 414.57L317.82 414.57L318.33 414.56L318.84 414.55L319.34 414.54L319.85 414.53L320.35 414.52L320.86 414.51L321.36 414.50L321.87 414.48L322.37 414.47L322.88 414.46L323.38 414.44L323.89 414.43L324.39 414.41L324.90 414.40L325.40 414.38L325.91 414.35L326.42 414.32L326.93 414.29L327.43 414.26L327.94 414.21L328.44 414.17L328.93 414.12L329.43 414.06L329.93 413.98L330.43 413.89L330.93 413.78L331.43 413.65L331.93 413.51L332.43 413.35L332.92 413.18L333.40 413.01L333.88 412.82L334.35 412.62L334.81 412.42L335.26 412.21L335.70 412.00L336.12 411.78L336.53 411.53L336.94 411.26L337.34 410.95L337.73 410.63L338.11 410.28L338.49 409.92L338.86 409.55L339.22 409.18L339.58 408.80L339.93 408.42L340.27 408.04L340.60 407.67L340.94 407.30L341.26 406.91L341.59 406.52L341.91 406.12L342.22 405.71L342.52 405.30L342.81 404.89L343.10 404.47L343.37 404.04L343.63 403.61L343.88 403.18L344.13 402.74L344.38 402.30L344.64 401.84L344.88 401.39L345.12 400.93L345.34 400.46L345.54 399.99L345.71 399.52L345.86 399.04L345.97 398.56L346.05 398.08L346.13 397.60L346.20 397.11L346.26 396.61L346.32 396.11L346.37 395.61L346.42 395.11L346.47 394.60L346.51 394.09L346.56 393.58L346.59 393.07L346.63 392.56L346.67 392.05L346.70 391.54L346.73 391.03L346.77 390.52L346.80 390.02L346.83 389.52L346.86 389.01L346.90 388.51L346.93 388.00L346.96 387.50L346.99 387.00L347.02 386.49L347.05 385.99L347.08 385.48L347.10 384.98L347.13 384.47L347.16 383.97L347.18 383.46L347.21 382.96L347.23 382.45L347.25 381.95L347.28 381.44L347.30 380.94L347.31 380.43L347.33 379.93L347.35 379.42L347.36 378.92L347.38 378.41L347.39 377.91L347.40 377.40L347.40 377.40L347.42 377.90L347.44 378.41L347.46 378.91L347.48 379.42L347.50 379.92L347.52 380.43L347.54 380.93L347.56 381.43L347.58 381.94L347.60 382.44L347.63 382.95L347.65 383.45L347.67 383.96L347.69 384.46L347.70 384.97L347.72 385.47L347.74 385.97L347.76 386.48L347.78 386.98L347.80 387.49L347.82 387.99L347.84 388.50L347.86 389.00L347.88 389.50L347.90 390.01L347.92 390.51L347.94 391.02L347.95 391.52L347.97 392.03L347.98 392.53L348.00 393.04L348.01 393.54L348.03 394.05L348.04 394.55L348.06 395.06L348.08 395.56L348.09 396.07L348.11 396.57L348.13 397.08L348.15 397.58L348.17 398.09L348.20 398.59L348.23 399.09L348.26 399.59L348.29 400.09L348.33 400.60L348.39 401.10L348.44 401.60L348.51 402.10L348.57 402.60L348.65 403.10L348.73 403.60L348.81 404.10L348.89 404.60L348.98 405.10L349.07 405.60L349.16 406.10L349.25 406.59L349.34 407.09L349.43 407.58L349.53 408.08L349.63 408.57L349.73 409.07L349.84 409.56L349.96 410.06L350.07 410.55L350.20 411.04L350.32 411.53L350.45 412.02L350.59 412.51L350.73 412.99L350.87 413.47L351.01 413.95L351.17 414.43L351.32 414.91L351.48 415.39L351.65 415.87L351.83 416.35L352.01 416.83L352.20 417.31L352.39 417.78L352.59 418.25L352.80 418.71L353.01 419.17L353.23 419.63L353.45 420.07L353.68 420.51L353.92 420.94L354.17 421.37L354.44 421.79L354.71 422.21L355.00 422.63L355.30 423.05L355.61 423.46L355.93 423.86L356.26 424.26L356.60 424.65L356.94 425.03L357.29 425.41L357.64 425.77L357.99 426.12L358.35 426.45L358.71 426.78L359.09 427.11L359.47 427.43L359.87 427.74L360.27 428.05L360.68 428.36L361.10 428.66L361.52 428.95L361.95 429.23L362.39 429.51L362.82 429.78L363.26 430.04L363.71 430.29L364.15 430.53L364.60 430.76L365.04 430.97L365.49 431.18L365.95 431.38L366.41 431.58L366.87 431.77L367.34 431.95L367.81 432.12L368.29 432.30L368.77 432.46L369.25 432.63L369.73 432.79L370.22 432.94L370.71 433.10L371.19 433.25L371.68 433.40L372.16 433.54L372.65 433.69L373.13 433.84L373.61 433.99L374.09 434.13L374.58 434.27L375.06 434.41L375.55 434.55L376.03 434.69L376.52 434.83L377.00 434.96L377.49 435.09L377.98 435.22L378.47 435.35L378.96 435.48L379.45 435.60L379.94 435.73L380.43 435.84L380.92 435.96L381.41 436.08L381.91 436.19L382.40 436.30" fill="none" stroke="#088686" stroke-width="1.5" stroke-linejoin="round" stroke-dasharray="1.2 1.1"/>
</g>
<line x1="225.10" y1="328.40" x2="225.10" y2="446.00" stroke="#3c3c3c" stroke-width="1.35" />
<line x1="225.10" y1="357.40" x2="227.90" y2="357.40" stroke="#555" stroke-width="0.9" />
<line x1="225.10" y1="386.70" x2="227.90" y2="386.70" stroke="#555" stroke-width="0.9" />
<line x1="225.10" y1="416.00" x2="227.90" y2="416.00" stroke="#555" stroke-width="0.9" />
<line x1="225.10" y1="342.70" x2="227.00" y2="342.70" stroke="#555" stroke-width="0.9" />
<line x1="225.10" y1="372.00" x2="227.00" y2="372.00" stroke="#555" stroke-width="0.9" />
<line x1="225.10" y1="401.40" x2="227.00" y2="401.40" stroke="#555" stroke-width="0.9" />
<line x1="225.10" y1="430.70" x2="227.00" y2="430.70" stroke="#555" stroke-width="0.9" />
<g clip-path="url(#cc)">
<path d="M54.60 550.10L55.10 550.15L55.60 550.21L56.11 550.26L56.61 550.31L57.11 550.36L57.61 550.41L58.12 550.46L58.62 550.51L59.12 550.56L59.62 550.60L60.13 550.65L60.63 550.69L61.13 550.73L61.63 550.77L62.14 550.81L62.64 550.85L63.14 550.89L63.64 550.92L64.15 550.95L64.65 550.98L65.15 551.01L65.66 551.04L66.16 551.07L66.66 551.09L67.17 551.11L67.67 551.13L68.17 551.15L68.67 551.17L69.18 551.18L69.68 551.19L70.19 551.20L70.69 551.21L71.19 551.22L71.70 551.23L72.20 551.23L72.70 551.24L73.21 551.25L73.71 551.25L74.22 551.26L74.72 551.27L75.23 551.27L75.73 551.28L76.23 551.28L76.74 551.29L77.24 551.29L77.75 551.29L78.25 551.30L78.75 551.30L79.26 551.30L79.76 551.30L80.26 551.30L80.77 551.29L81.27 551.27L81.78 551.24L82.28 551.20L82.79 551.15L83.29 551.10L83.79 551.04L84.29 550.99L84.79 550.93L85.28 550.86L85.78 550.79L86.27 550.70L86.77 550.60L87.26 550.50L87.75 550.38L88.24 550.25L88.73 550.12L89.22 549.98L89.70 549.84L90.19 549.69L90.67 549.54L91.16 549.39L91.64 549.24L92.12 549.09L92.60 548.94L93.08 548.79L93.56 548.63L94.05 548.48L94.54 548.31L95.02 548.15L95.50 547.97L95.98 547.79L96.45 547.61L96.92 547.41L97.38 547.21L97.83 547.00L98.27 546.78L98.69 546.55L99.12 546.30L99.55 546.02L99.98 545.73L100.41 545.42L100.82 545.10L101.21 544.76L101.58 544.41L101.93 544.05L102.25 543.69L102.54 543.31L102.82 542.92L103.09 542.50L103.36 542.07L103.61 541.62L103.86 541.15L104.08 540.68L104.29 540.20L104.48 539.72L104.64 539.24L104.78 538.76L104.90 538.29L105.01 537.81L105.11 537.33L105.20 536.84L105.29 536.35L105.38 535.85L105.46 535.35L105.54 534.85L105.61 534.35L105.68 533.84L105.74 533.34L105.80 532.83L105.86 532.32L105.91 531.82L105.96 531.31L106.01 530.80L106.06 530.30L106.10 529.80L106.14 529.30L106.18 528.79L106.22 528.29L106.25 527.79L106.29 527.29L106.32 526.78L106.35 526.28L106.38 525.78L106.41 525.27L106.43 524.77L106.46 524.27L106.49 523.76L106.51 523.26L106.54 522.76L106.57 522.25L106.59 521.75L106.62 521.25L106.65 520.74L106.68 520.24L106.71 519.74L106.74 519.23L106.77 518.73L106.81 518.23L106.84 517.72L106.87 517.22L106.90 516.72L106.94 516.21L106.97 515.71L107.00 515.21L107.03 514.71L107.07 514.20L107.10 513.70L107.10 513.70L107.13 514.20L107.16 514.71L107.18 515.21L107.21 515.72L107.24 516.22L107.27 516.72L107.30 517.23L107.33 517.73L107.36 518.24L107.39 518.74L107.42 519.24L107.45 519.75L107.49 520.25L107.52 520.75L107.55 521.26L107.58 521.76L107.61 522.27L107.65 522.77L107.68 523.27L107.71 523.78L107.74 524.28L107.78 524.78L107.81 525.29L107.84 525.79L107.87 526.30L107.91 526.80L107.94 527.30L107.97 527.81L108.00 528.31L108.04 528.82L108.07 529.32L108.10 529.82L108.14 530.33L108.17 530.83L108.21 531.33L108.25 531.84L108.29 532.34L108.32 532.84L108.36 533.35L108.41 533.85L108.45 534.35L108.49 534.85L108.54 535.36L108.59 535.86L108.64 536.36L108.69 536.86L108.74 537.37L108.79 537.87L108.85 538.38L108.90 538.88L108.96 539.39L109.02 539.89L109.09 540.39L109.16 540.90L109.23 541.40L109.30 541.90L109.38 542.40L109.46 542.89L109.55 543.39L109.64 543.88L109.73 544.37L109.83 544.85L109.94 545.34L110.06 545.84L110.19 546.33L110.33 546.83L110.48 547.32L110.64 547.82L110.81 548.31L110.99 548.80L111.17 549.28L111.37 549.76L111.57 550.23L111.78 550.70L112.00 551.15L112.22 551.60L112.45 552.03L112.69 552.45L112.93 552.85L113.20 553.25L113.50 553.63L113.82 554.00L114.16 554.37L114.53 554.73L114.91 555.08L115.30 555.42L115.70 555.76L116.10 556.09L116.50 556.43L116.89 556.75L117.28 557.08L117.66 557.41L118.05 557.73L118.44 558.06L118.83 558.38L119.23 558.70L119.63 559.01L120.03 559.32L120.44 559.62L120.85 559.91L121.26 560.20L121.68 560.47L122.11 560.74L122.53 561.00L122.97 561.25L123.40 561.50L123.85 561.74L124.29 561.98L124.74 562.21L125.20 562.44L125.65 562.66L126.11 562.88L126.57 563.09L127.03 563.30L127.50 563.51L127.96 563.71L128.42 563.91L128.89 564.10L129.36 564.28L129.83 564.45L130.31 564.62L130.79 564.78L131.27 564.94L131.75 565.11L132.23 565.28L132.70 565.45L133.17 565.64L133.63 565.83L134.09 566.04L134.53 566.28L134.97 566.53L135.40 566.80L135.60 557.50L135.61 558.31L135.64 559.06L135.69 559.75L135.75 560.36L135.83 560.87L135.93 561.27L136.03 561.55L136.15 561.69L136.30 561.69L136.61 561.62L137.04 561.51L137.57 561.36L138.15 561.19L138.75 561.00L139.34 560.81L139.88 560.64L140.36 560.48L140.84 560.32L141.32 560.16L141.80 559.99L142.28 559.82L142.75 559.65L143.23 559.48L143.71 559.30L144.18 559.11L144.65 558.93L145.12 558.73L145.59 558.54L146.05 558.34L146.51 558.13L146.96 557.92L147.41 557.70L147.85 557.48L148.29 557.24L148.73 557.01L149.18 556.76L149.63 556.51L150.07 556.25L150.52 555.99L150.96 555.71L151.40 555.43L151.83 555.15L152.26 554.85L152.68 554.55L153.09 554.25L153.49 553.94L153.88 553.62L154.26 553.29L154.63 552.96L154.99 552.63L155.33 552.28L155.65 551.94L155.97 551.57L156.28 551.19L156.59 550.80L156.89 550.39L157.19 549.97L157.47 549.54L157.75 549.10L158.02 548.65L158.28 548.20L158.53 547.75L158.76 547.29L158.98 546.84L159.19 546.38L159.39 545.92L159.58 545.47L159.76 545.01L159.94 544.54L160.11 544.07L160.28 543.59L160.44 543.11L160.60 542.62L160.75 542.13L160.90 541.64L161.03 541.15L161.16 540.66L161.29 540.16L161.40 539.67L161.50 539.17L161.60 538.68L161.69 538.19L161.76 537.69L161.84 537.20L161.91 536.70L161.99 536.21L162.05 535.71L162.12 535.21L162.18 534.71L162.24 534.21L162.30 533.71L162.36 533.21L162.42 532.70L162.47 532.20L162.52 531.70L162.57 531.19L162.62 530.69L162.66 530.18L162.71 529.68L162.75 529.17L162.79 528.67L162.83 528.16L162.87 527.66L162.90 527.15L162.94 526.65L162.97 526.15L163.00 525.64L163.03 525.14L163.07 524.64L163.09 524.13L163.12 523.63L163.15 523.13L163.18 522.62L163.20 522.12L163.23 521.62L163.25 521.11L163.28 520.61L163.30 520.11L163.32 519.60L163.35 519.10L163.37 518.59L163.39 518.09L163.41 517.59L163.43 517.08L163.45 516.58L163.47 516.07L163.49 515.57L163.51 515.06L163.53 514.56L163.55 514.06L163.57 513.55L163.59 513.05L163.60 512.54L163.62 512.04L163.64 511.53L163.66 511.03L163.68 510.53L163.70 510.02L163.72 509.52L163.73 509.01L163.75 508.51L163.77 508.00L163.79 507.50L163.81 507.00L163.83 506.49L163.85 505.99L163.87 505.48L163.88 504.98L163.90 504.48L163.92 503.97L163.94 503.47L163.96 502.96L163.97 502.46L163.99 501.95L164.01 501.45L164.02 500.95L164.04 500.44L164.06 499.94L164.07 499.43L164.09 498.93L164.11 498.43L164.12 497.92L164.14 497.42L164.15 496.91L164.17 496.41L164.18 495.90L164.20 495.40L164.20 495.40L164.23 495.90L164.26 496.41L164.29 496.91L164.32 497.41L164.35 497.92L164.37 498.42L164.40 498.92L164.43 499.43L164.46 499.93L164.48 500.43L164.51 500.94L164.54 501.44L164.56 501.94L164.59 502.45L164.61 502.95L164.64 503.45L164.66 503.96L164.68 504.46L164.71 504.96L164.73 505.47L164.75 505.97L164.77 506.47L164.79 506.98L164.81 507.48L164.83 507.98L164.85 508.49L164.86 508.99L164.88 509.49L164.90 510.00L164.91 510.50L164.93 511.01L164.94 511.51L164.95 512.01L164.97 512.52L164.98 513.02L164.99 513.52L165.00 514.03L165.02 514.53L165.03 515.04L165.04 515.54L165.05 516.04L165.06 516.55L165.07 517.05L165.08 517.56L165.09 518.06L165.11 518.56L165.12 519.07L165.13 519.57L165.14 520.08L165.15 520.58L165.16 521.08L165.18 521.59L165.19 522.09L165.20 522.59L165.22 523.10L165.23 523.60L165.25 524.11L165.26 524.61L165.28 525.11L165.30 525.62L165.31 526.12L165.33 526.62L165.35 527.13L165.37 527.63L165.39 528.14L165.41 528.64L165.43 529.14L165.45 529.65L165.47 530.15L165.50 530.65L165.52 531.16L165.54 531.66L165.57 532.17L165.59 532.67L165.61 533.17L165.64 533.68L165.67 534.18L165.69 534.68L165.72 535.19L165.75 535.69L165.78 536.19L165.81 536.70L165.84 537.20L165.87 537.70L165.90 538.21L165.93 538.71L165.96 539.21L166.00 539.71L166.03 540.22L166.07 540.72L166.10 541.22L166.14 541.72L166.18 542.22L166.22 542.73L166.26 543.23L166.30 543.73L166.34 544.24L166.39 544.74L166.43 545.24L166.48 545.75L166.53 546.25L166.58 546.75L166.64 547.26L166.69 547.76L166.74 548.26L166.80 548.76L166.86 549.27L166.92 549.77L166.98 550.27L167.05 550.77L167.11 551.27L167.18 551.77L167.25 552.27L167.32 552.77L167.39 553.27L167.46 553.77L167.54 554.26L167.61 554.76L167.69 555.26L167.77 555.75L167.85 556.24L167.94 556.74L168.03 557.23L168.12 557.72L168.22 558.22L168.32 558.71L168.43 559.21L168.54 559.71L168.66 560.20L168.78 560.70L168.91 561.20L169.04 561.69L169.18 562.18L169.32 562.67L169.46 563.16L169.62 563.65L169.77 564.13L169.93 564.61L170.09 565.09L170.26 565.56L170.44 566.03L170.61 566.49L170.79 566.95L170.98 567.41L171.17 567.85L171.38 568.30L171.60 568.75L171.83 569.19L172.08 569.63L172.34 570.07L172.61 570.50L172.89 570.93L173.17 571.36L173.47 571.78L173.77 572.20L174.08 572.61L174.39 573.01L174.71 573.41L175.03 573.80L175.35 574.19L175.67 574.56L175.99 574.94L176.33 575.31L176.67 575.68L177.02 576.05L177.37 576.42L177.74 576.78L178.11 577.14L178.48 577.50L178.87 577.84L179.25 578.18L179.65 578.51L180.04 578.82L180.45 579.13L180.85 579.42L181.26 579.70L181.68 579.96L182.09 580.21L182.52 580.46L182.95 580.69L183.39 580.92L183.84 581.15L184.30 581.36L184.76 581.58L185.22 581.78L185.70 581.98L186.17 582.18L186.65 582.36L187.13 582.55L187.61 582.72L188.09 582.89L188.57 583.05L189.05 583.20L189.53 583.35L190.02 583.49L190.50 583.61L190.99 583.73L191.49 583.84L191.98 583.95L192.47 584.07L192.96 584.19L193.45 584.32L193.93 584.45L194.42 584.58L194.91 584.71L195.39 584.85L195.88 584.98L196.36 585.12L196.85 585.25L197.33 585.39L197.82 585.53L198.31 585.66L198.79 585.80L199.28 585.93L199.76 586.06L200.25 586.19L200.74 586.31L201.23 586.43L201.72 586.55L202.21 586.67L202.70 586.78L203.19 586.90L203.68 587.01L204.17 587.12L204.66 587.23L205.16 587.34L205.65 587.44L206.14 587.55L206.64 587.66L207.13 587.76L207.62 587.87L208.11 587.97L208.61 588.07L209.10 588.18L209.59 588.28L210.09 588.39L210.58 588.49L211.07 588.60L211.57 588.70L212.06 588.80L212.55 588.90L213.05 589.00L213.54 589.11L214.03 589.21L214.53 589.31L215.02 589.41L215.52 589.51L216.01 589.60L216.51 589.70L217.00 589.80" fill="none" stroke="#1c1c94" stroke-width="1.6" stroke-linejoin="round"/>
<path d="M54.60 550.45L55.10 550.50L55.61 550.56L56.11 550.61L56.61 550.66L57.11 550.71L57.62 550.76L58.12 550.81L58.62 550.86L59.12 550.91L59.63 550.95L60.13 551.00L60.63 551.04L61.14 551.08L61.64 551.12L62.14 551.16L62.65 551.20L63.15 551.24L63.65 551.27L64.16 551.30L64.66 551.33L65.16 551.36L65.67 551.39L66.17 551.42L66.67 551.44L67.18 551.46L67.68 551.48L68.19 551.50L68.69 551.52L69.19 551.53L69.70 551.54L70.20 551.55L70.70 551.56L71.21 551.57L71.71 551.58L72.22 551.58L72.72 551.59L73.23 551.60L73.73 551.60L74.24 551.61L74.74 551.62L75.25 551.62L75.75 551.63L76.26 551.63L76.76 551.64L77.27 551.64L77.77 551.64L78.27 551.65L78.78 551.65L79.28 551.65L79.79 551.65L80.29 551.65L80.79 551.64L81.30 551.62L81.80 551.58L82.31 551.54L82.81 551.50L83.32 551.45L83.82 551.39L84.32 551.33L84.82 551.27L85.31 551.21L85.81 551.13L86.30 551.05L86.80 550.95L87.29 550.84L87.78 550.72L88.27 550.59L88.76 550.46L89.25 550.32L89.74 550.18L90.22 550.03L90.71 549.88L91.19 549.73L91.67 549.58L92.16 549.43L92.64 549.28L93.12 549.13L93.60 548.97L94.09 548.81L94.58 548.65L95.06 548.48L95.54 548.31L96.02 548.13L96.49 547.94L96.96 547.75L97.42 547.54L97.87 547.33L98.30 547.11L98.73 546.88L99.16 546.62L99.59 546.35L100.02 546.05L100.44 545.74L100.85 545.42L101.25 545.08L101.62 544.73L101.96 544.37L102.28 544.00L102.57 543.62L102.85 543.23L103.12 542.81L103.39 542.37L103.64 541.92L103.88 541.45L104.10 540.98L104.31 540.50L104.50 540.02L104.66 539.54L104.80 539.06L104.91 538.59L105.02 538.11L105.12 537.62L105.21 537.13L105.30 536.64L105.39 536.15L105.47 535.65L105.54 535.14L105.62 534.64L105.68 534.13L105.75 533.63L105.81 533.12L105.86 532.61L105.92 532.10L105.97 531.60L106.02 531.09L106.06 530.59L106.11 530.08L106.15 529.58L106.18 529.08L106.22 528.58L106.25 528.07L106.28 527.57L106.31 527.07L106.34 526.56L106.36 526.06L106.39 525.55L106.41 525.05L106.44 524.54L106.46 524.04L106.49 523.54L106.52 523.03L106.55 522.53L106.58 522.02L106.61 521.52L106.64 521.02L106.68 520.51L106.72 520.01L106.77 519.51L106.81 519.01L106.87 518.51L106.92 518.00L106.98 517.50L107.04 517.00L107.10 516.50L107.10 516.50L107.14 517.00L107.18 517.51L107.23 518.01L107.27 518.51L107.31 519.02L107.35 519.52L107.39 520.03L107.43 520.53L107.47 521.03L107.51 521.54L107.55 522.04L107.59 522.54L107.63 523.05L107.67 523.55L107.71 524.06L107.75 524.56L107.78 525.06L107.82 525.57L107.85 526.07L107.89 526.58L107.92 527.08L107.95 527.59L107.99 528.09L108.02 528.60L108.05 529.10L108.08 529.60L108.12 530.11L108.15 530.61L108.18 531.12L108.22 531.62L108.25 532.13L108.29 532.63L108.33 533.13L108.36 533.64L108.40 534.14L108.45 534.64L108.49 535.15L108.53 535.65L108.58 536.15L108.63 536.66L108.68 537.16L108.73 537.66L108.78 538.17L108.84 538.67L108.90 539.18L108.96 539.69L109.02 540.19L109.08 540.69L109.15 541.20L109.22 541.70L109.30 542.20L109.37 542.70L109.46 543.20L109.54 543.69L109.63 544.18L109.72 544.67L109.82 545.16L109.93 545.65L110.05 546.14L110.18 546.64L110.32 547.14L110.47 547.63L110.63 548.13L110.80 548.62L110.97 549.11L111.16 549.60L111.35 550.08L111.56 550.55L111.76 551.01L111.98 551.47L112.21 551.91L112.44 552.35L112.67 552.77L112.92 553.18L113.18 553.57L113.48 553.96L113.80 554.33L114.14 554.70L114.51 555.05L114.89 555.41L115.28 555.75L115.67 556.09L116.07 556.43L116.47 556.76L116.87 557.09L117.26 557.41L117.64 557.74L118.03 558.07L118.42 558.39L118.81 558.71L119.21 559.03L119.61 559.34L120.01 559.65L120.42 559.95L120.83 560.25L121.25 560.54L121.67 560.81L122.09 561.08L122.52 561.34L122.95 561.59L123.39 561.84L123.83 562.08L124.28 562.32L124.73 562.55L125.18 562.78L125.64 563.00L126.10 563.22L126.56 563.44L127.02 563.65L127.49 563.85L127.95 564.06L128.41 564.26L128.88 564.45L129.35 564.63L129.83 564.80L130.31 564.97L130.79 565.13L131.27 565.29L131.75 565.46L132.23 565.63L132.70 565.80L133.17 565.99L133.63 566.18L134.09 566.39L134.53 566.63L134.97 566.88L135.40 567.15L135.70 559.50L135.73 560.24L135.79 560.91L135.90 561.48L136.03 561.87L136.18 562.05L136.39 562.03L136.74 561.95L137.21 561.82L137.75 561.67L138.33 561.49L138.92 561.30L139.49 561.12L140.01 560.95L140.49 560.79L140.96 560.63L141.44 560.46L141.92 560.30L142.40 560.13L142.88 559.95L143.36 559.78L143.84 559.60L144.31 559.41L144.78 559.22L145.25 559.03L145.71 558.83L146.17 558.63L146.63 558.42L147.08 558.21L147.53 557.99L147.97 557.76L148.41 557.53L148.86 557.29L149.31 557.04L149.75 556.79L150.20 556.53L150.64 556.26L151.08 555.98L151.52 555.70L151.95 555.41L152.38 555.12L152.80 554.82L153.21 554.51L153.61 554.20L153.99 553.88L154.37 553.55L154.74 553.22L155.09 552.88L155.42 552.54L155.74 552.18L156.06 551.81L156.37 551.43L156.68 551.03L156.98 550.62L157.27 550.19L157.56 549.76L157.83 549.32L158.10 548.87L158.35 548.42L158.60 547.97L158.83 547.51L159.05 547.05L159.25 546.59L159.45 546.14L159.63 545.68L159.81 545.22L159.99 544.75L160.16 544.27L160.33 543.79L160.49 543.31L160.65 542.82L160.80 542.34L160.94 541.84L161.07 541.35L161.20 540.86L161.32 540.36L161.43 539.87L161.53 539.37L161.63 538.88L161.71 538.38L161.79 537.89L161.86 537.40L161.94 536.90L162.01 536.40L162.07 535.91L162.14 535.41L162.20 534.91L162.26 534.40L162.32 533.90L162.38 533.40L162.43 532.90L162.49 532.39L162.54 531.89L162.59 531.38L162.63 530.88L162.68 530.37L162.72 529.87L162.76 529.36L162.80 528.86L162.84 528.35L162.88 527.85L162.91 527.34L162.95 526.84L162.98 526.34L163.01 525.83L163.04 525.33L163.07 524.83L163.10 524.32L163.13 523.82L163.16 523.31L163.18 522.81L163.21 522.31L163.23 521.80L163.26 521.30L163.28 520.79L163.30 520.29L163.32 519.79L163.35 519.28L163.37 518.78L163.39 518.27L163.41 517.77L163.43 517.26L163.45 516.76L163.46 516.25L163.48 515.75L163.50 515.25L163.52 514.74L163.54 514.24L163.56 513.73L163.58 513.23L163.60 512.72L163.62 512.22L163.64 511.71L163.66 511.21L163.68 510.70L163.70 510.20L163.72 509.69L163.74 509.19L163.76 508.69L163.78 508.18L163.81 507.68L163.83 507.17L163.85 506.67L163.87 506.16L163.89 505.66L163.92 505.16L163.94 504.65L163.96 504.15L163.98 503.64L164.00 503.14L164.02 502.63L164.05 502.13L164.07 501.63L164.09 501.12L164.11 500.62L164.13 500.11L164.16 499.61L164.18 499.10L164.20 498.60L164.20 498.60L164.24 499.10L164.28 499.60L164.31 500.10L164.35 500.61L164.39 501.11L164.42 501.61L164.46 502.11L164.50 502.61L164.53 503.11L164.56 503.61L164.60 504.12L164.63 504.62L164.66 505.12L164.69 505.62L164.72 506.12L164.74 506.63L164.77 507.13L164.79 507.63L164.82 508.13L164.84 508.63L164.86 509.14L164.88 509.64L164.89 510.14L164.91 510.64L164.93 511.14L164.94 511.65L164.96 512.15L164.97 512.65L164.98 513.15L165.00 513.66L165.01 514.16L165.02 514.66L165.03 515.16L165.04 515.67L165.05 516.17L165.06 516.67L165.08 517.17L165.09 517.68L165.10 518.18L165.11 518.68L165.12 519.18L165.13 519.69L165.14 520.19L165.15 520.69L165.16 521.20L165.17 521.70L165.19 522.20L165.20 522.70L165.21 523.21L165.23 523.71L165.24 524.21L165.26 524.71L165.27 525.21L165.29 525.72L165.31 526.22L165.32 526.72L165.34 527.22L165.36 527.73L165.38 528.23L165.40 528.73L165.42 529.23L165.44 529.74L165.46 530.24L165.48 530.74L165.51 531.24L165.53 531.75L165.55 532.25L165.58 532.75L165.60 533.25L165.63 533.76L165.65 534.26L165.68 534.76L165.71 535.26L165.73 535.76L165.76 536.27L165.79 536.77L165.82 537.27L165.85 537.77L165.88 538.27L165.91 538.77L165.94 539.28L165.98 539.78L166.01 540.28L166.05 540.78L166.08 541.28L166.12 541.78L166.15 542.28L166.19 542.78L166.23 543.28L166.27 543.79L166.32 544.29L166.36 544.79L166.41 545.29L166.45 545.79L166.50 546.30L166.55 546.80L166.60 547.30L166.66 547.80L166.71 548.30L166.77 548.80L166.82 549.31L166.88 549.81L166.94 550.31L167.01 550.81L167.07 551.31L167.14 551.81L167.20 552.30L167.27 552.80L167.34 553.30L167.41 553.80L167.49 554.29L167.56 554.79L167.64 555.28L167.72 555.78L167.80 556.27L167.88 556.76L167.97 557.25L168.06 557.74L168.15 558.24L168.25 558.73L168.35 559.23L168.46 559.72L168.58 560.22L168.70 560.71L168.82 561.21L168.95 561.70L169.08 562.19L169.22 562.68L169.36 563.17L169.51 563.66L169.66 564.14L169.82 564.63L169.98 565.10L170.14 565.58L170.31 566.05L170.49 566.51L170.66 566.97L170.85 567.43L171.03 567.88L171.23 568.33L171.43 568.77L171.66 569.22L171.90 569.66L172.15 570.10L172.41 570.53L172.68 570.97L172.96 571.39L173.25 571.82L173.55 572.24L173.85 572.65L174.16 573.06L174.47 573.46L174.79 573.86L175.11 574.25L175.43 574.63L175.74 575.00L176.07 575.37L176.40 575.75L176.75 576.12L177.10 576.49L177.45 576.85L177.82 577.21L178.19 577.57L178.56 577.92L178.95 578.26L179.33 578.60L179.73 578.92L180.13 579.24L180.53 579.54L180.93 579.83L181.34 580.10L181.76 580.36L182.17 580.61L182.60 580.85L183.03 581.08L183.47 581.31L183.92 581.54L184.38 581.75L184.84 581.96L185.30 582.17L185.78 582.37L186.25 582.56L186.73 582.74L187.20 582.92L187.68 583.10L188.17 583.26L188.65 583.42L189.13 583.58L189.61 583.72L190.09 583.86L190.57 583.98L191.06 584.10L191.55 584.21L192.05 584.32L192.54 584.43L193.02 584.56L193.51 584.68L193.99 584.81L194.48 584.95L194.96 585.08L195.45 585.21L195.93 585.35L196.42 585.48L196.90 585.62L197.39 585.76L197.87 585.89L198.35 586.03L198.84 586.16L199.32 586.29L199.81 586.42L200.30 586.55L200.78 586.67L201.27 586.79L201.76 586.91L202.25 587.03L202.74 587.14L203.23 587.26L203.72 587.37L204.21 587.48L204.70 587.59L205.19 587.69L205.68 587.80L206.17 587.91L206.66 588.01L207.15 588.12L207.65 588.22L208.14 588.32L208.63 588.43L209.12 588.53L209.61 588.64L210.11 588.74L210.60 588.85L211.09 588.95L211.58 589.05L212.07 589.15L212.57 589.26L213.06 589.36L213.55 589.46L214.04 589.56L214.54 589.66L215.03 589.76L215.52 589.86L216.01 589.95L216.51 590.05L217.00 590.15" fill="none" stroke="#ff8510" stroke-width="1.6" stroke-linejoin="round" stroke-dasharray="1.2 1.1"/>
<path d="M54.60 555.60L55.10 555.67L55.60 555.73L56.10 555.80L56.60 555.86L57.10 555.92L57.60 555.98L58.09 556.04L58.59 556.10L59.09 556.15L59.59 556.21L60.09 556.26L60.59 556.31L61.09 556.36L61.59 556.40L62.09 556.44L62.59 556.49L63.09 556.52L63.59 556.56L64.09 556.59L64.59 556.63L65.09 556.66L65.59 556.68L66.09 556.71L66.59 556.73L67.09 556.75L67.59 556.76L68.10 556.78L68.60 556.79L69.10 556.79L69.60 556.80L70.10 556.80L70.60 556.80L71.10 556.80L71.60 556.80L72.10 556.79L72.60 556.79L73.11 556.78L73.61 556.77L74.11 556.77L74.61 556.76L75.12 556.75L75.62 556.74L76.12 556.73L76.62 556.71L77.12 556.70L77.62 556.68L78.13 556.67L78.63 556.65L79.13 556.64L79.62 556.62L80.12 556.60L80.62 556.57L81.12 556.53L81.62 556.47L82.11 556.40L82.61 556.32L83.11 556.23L83.60 556.15L84.10 556.06L84.59 555.97L85.09 555.89L85.58 555.80L86.08 555.72L86.58 555.64L87.07 555.55L87.57 555.47L88.07 555.38L88.57 555.29L89.06 555.19L89.56 555.09L90.05 554.99L90.54 554.88L91.02 554.76L91.50 554.64L91.98 554.52L92.46 554.38L92.93 554.24L93.41 554.08L93.89 553.91L94.37 553.73L94.85 553.54L95.32 553.33L95.79 553.12L96.25 552.90L96.70 552.66L97.15 552.42L97.58 552.17L97.99 551.91L98.39 551.65L98.78 551.37L99.15 551.07L99.52 550.74L99.87 550.39L100.22 550.02L100.56 549.64L100.89 549.24L101.21 548.84L101.52 548.43L101.83 548.01L102.12 547.60L102.41 547.19L102.67 546.78L102.93 546.34L103.16 545.90L103.39 545.45L103.61 544.99L103.84 544.53L104.07 544.08L104.31 543.64L104.57 543.22L104.84 542.81L105.16 542.36L105.51 541.87L105.87 541.43L106.22 541.11L106.53 541.00L106.82 541.16L107.09 541.54L107.36 542.05L107.60 542.62L107.82 543.18L108.01 543.66L108.19 544.12L108.35 544.59L108.50 545.06L108.64 545.54L108.77 546.03L108.90 546.52L109.03 547.01L109.15 547.50L109.28 547.99L109.42 548.47L109.56 548.96L109.71 549.43L109.87 549.91L110.04 550.38L110.20 550.86L110.37 551.34L110.54 551.82L110.72 552.30L110.90 552.77L111.08 553.25L111.27 553.72L111.46 554.19L111.66 554.66L111.87 555.11L112.08 555.56L112.30 556.01L112.53 556.44L112.76 556.87L113.01 557.28L113.27 557.69L113.55 558.10L113.85 558.51L114.16 558.91L114.49 559.30L114.82 559.69L115.17 560.07L115.52 560.44L115.88 560.81L116.24 561.16L116.61 561.50L116.99 561.83L117.36 562.15L117.74 562.46L118.13 562.76L118.54 563.05L118.96 563.33L119.38 563.61L119.81 563.88L120.25 564.14L120.69 564.40L121.13 564.64L121.57 564.88L122.02 565.11L122.46 565.33L122.91 565.55L123.36 565.77L123.82 565.98L124.28 566.19L124.74 566.39L125.21 566.58L125.67 566.77L126.15 566.96L126.62 567.13L127.09 567.30L127.57 567.45L128.05 567.60L128.52 567.73L129.01 567.87L129.50 568.02L129.99 568.16L130.49 568.28L130.98 568.39L131.47 568.46L131.96 568.50L132.44 568.48L132.93 568.37L133.41 568.21L133.89 568.01L134.36 567.80L134.81 567.60L135.25 567.36L135.67 567.07L136.09 566.78L136.51 566.51L136.95 566.27L137.40 566.08L137.87 565.92L138.36 565.78L138.84 565.64L139.33 565.51L139.81 565.36L140.29 565.20L140.76 565.04L141.24 564.88L141.73 564.71L142.21 564.55L142.69 564.38L143.18 564.21L143.66 564.04L144.13 563.86L144.61 563.68L145.08 563.50L145.54 563.30L146.00 563.10L146.45 562.90L146.89 562.68L147.32 562.46L147.74 562.23L148.16 561.99L148.57 561.73L148.98 561.46L149.39 561.18L149.80 560.89L150.20 560.58L150.60 560.26L151.00 559.94L151.39 559.60L151.77 559.26L152.15 558.91L152.53 558.55L152.89 558.19L153.25 557.82L153.61 557.45L153.95 557.07L154.29 556.69L154.61 556.31L154.93 555.92L155.24 555.54L155.53 555.16L155.82 554.77L156.10 554.37L156.38 553.96L156.65 553.54L156.92 553.11L157.18 552.68L157.43 552.24L157.68 551.79L157.92 551.34L158.16 550.89L158.39 550.43L158.61 549.98L158.82 549.52L159.03 549.06L159.23 548.60L159.42 548.14L159.61 547.68L159.77 547.21L159.93 546.73L160.08 546.25L160.23 545.77L160.37 545.28L160.51 544.80L160.64 544.31L160.78 543.82L160.93 543.34L161.08 542.86L161.24 542.39L161.41 541.92L161.59 541.46L161.79 540.99L162.01 540.45L162.26 539.87L162.52 539.32L162.78 538.85L163.05 538.52L163.30 538.40L163.56 538.52L163.84 538.86L164.12 539.33L164.39 539.89L164.62 540.47L164.80 541.02L164.92 541.49L165.03 541.96L165.14 542.43L165.23 542.91L165.31 543.39L165.39 543.88L165.46 544.38L165.53 544.87L165.59 545.37L165.65 545.87L165.71 546.38L165.76 546.88L165.82 547.39L165.87 547.90L165.92 548.41L165.98 548.92L166.03 549.42L166.09 549.93L166.15 550.44L166.22 550.94L166.29 551.44L166.37 551.93L166.46 552.43L166.54 552.92L166.63 553.41L166.72 553.91L166.81 554.40L166.90 554.90L166.99 555.39L167.09 555.88L167.19 556.38L167.29 556.87L167.39 557.36L167.49 557.85L167.60 558.34L167.70 558.83L167.81 559.32L167.92 559.81L168.03 560.30L168.15 560.79L168.27 561.28L168.39 561.76L168.51 562.25L168.63 562.73L168.76 563.22L168.88 563.70L169.01 564.19L169.15 564.67L169.28 565.16L169.42 565.65L169.56 566.13L169.71 566.62L169.86 567.10L170.01 567.59L170.16 568.07L170.33 568.55L170.49 569.03L170.66 569.50L170.83 569.97L171.01 570.44L171.19 570.90L171.38 571.35L171.58 571.81L171.78 572.25L171.99 572.70L172.21 573.14L172.44 573.59L172.68 574.04L172.93 574.48L173.19 574.92L173.46 575.36L173.73 575.79L174.02 576.22L174.31 576.64L174.61 577.06L174.91 577.46L175.23 577.86L175.54 578.24L175.87 578.62L176.19 578.98L176.53 579.33L176.87 579.66L177.23 579.99L177.61 580.31L178.00 580.63L178.40 580.93L178.81 581.23L179.23 581.53L179.66 581.81L180.09 582.09L180.52 582.36L180.95 582.63L181.38 582.89L181.81 583.15L182.24 583.40L182.67 583.65L183.11 583.90L183.54 584.14L183.99 584.38L184.43 584.62L184.88 584.85L185.33 585.08L185.78 585.31L186.23 585.53L186.69 585.74L187.15 585.95L187.61 586.16L188.07 586.35L188.53 586.55L189.00 586.73L189.46 586.91L189.93 587.08L190.40 587.24L190.88 587.39L191.36 587.53L191.85 587.67L192.33 587.82L192.81 587.97L193.29 588.12L193.76 588.27L194.24 588.42L194.72 588.58L195.20 588.73L195.67 588.89L196.15 589.05L196.63 589.20L197.10 589.36L197.58 589.51L198.06 589.67L198.54 589.82L199.01 589.97L199.49 590.11L199.97 590.26L200.45 590.40L200.94 590.54L201.42 590.68L201.90 590.81L202.38 590.94L202.87 591.06L203.35 591.19L203.84 591.31L204.33 591.43L204.81 591.55L205.30 591.67L205.79 591.78L206.28 591.90L206.77 592.02L207.25 592.13L207.74 592.25L208.23 592.37L208.72 592.48L209.21 592.60L209.69 592.72L210.18 592.84L210.67 592.96L211.15 593.08L211.64 593.20L212.13 593.32L212.61 593.43L213.10 593.55L213.59 593.67L214.08 593.79L214.56 593.91L215.05 594.03L215.54 594.15L216.03 594.26L216.51 594.38L217.00 594.50" fill="none" stroke="#8a108a" stroke-width="1.6" stroke-linejoin="round"/>
<path d="M54.60 558.30L55.10 558.37L55.60 558.43L56.10 558.50L56.60 558.56L57.10 558.62L57.61 558.67L58.11 558.72L58.61 558.77L59.11 558.82L59.61 558.87L60.11 558.91L60.61 558.95L61.11 558.99L61.61 559.02L62.11 559.06L62.61 559.09L63.12 559.12L63.62 559.14L64.12 559.17L64.62 559.19L65.12 559.21L65.62 559.23L66.12 559.24L66.62 559.26L67.12 559.27L67.62 559.28L68.13 559.29L68.63 559.29L69.13 559.30L69.63 559.30L70.13 559.30L70.63 559.30L71.13 559.29L71.63 559.28L72.13 559.26L72.64 559.24L73.14 559.22L73.64 559.20L74.14 559.17L74.64 559.14L75.14 559.10L75.65 559.07L76.15 559.03L76.65 558.99L77.15 558.95L77.65 558.91L78.15 558.87L78.65 558.82L79.15 558.78L79.65 558.74L80.15 558.70L80.65 558.65L81.15 558.60L81.65 558.54L82.15 558.48L82.64 558.42L83.14 558.35L83.64 558.28L84.14 558.21L84.63 558.13L85.13 558.06L85.63 557.98L86.12 557.91L86.62 557.84L87.12 557.76L87.61 557.68L88.11 557.61L88.60 557.52L89.10 557.44L89.59 557.36L90.09 557.27L90.58 557.19L91.08 557.10L91.57 557.01L92.07 556.92L92.56 556.83L93.05 556.73L93.54 556.63L94.04 556.53L94.53 556.42L95.02 556.32L95.51 556.23L96.01 556.15L96.50 556.07L97.00 555.99L97.50 555.91L97.99 555.84L98.49 555.77L98.99 555.70L99.49 555.65L99.99 555.62L100.49 555.60L100.99 555.60L101.50 555.61L102.01 555.61L102.51 555.63L103.02 555.64L103.52 555.66L104.01 555.68L104.50 555.71L104.99 555.77L105.47 555.89L105.95 556.05L106.42 556.25L106.89 556.46L107.35 556.69L107.81 556.92L108.27 557.14L108.71 557.35L109.15 557.58L109.59 557.83L110.02 558.08L110.44 558.35L110.86 558.63L111.28 558.91L111.70 559.19L112.12 559.48L112.54 559.76L112.96 560.04L113.39 560.31L113.82 560.57L114.25 560.82L114.69 561.06L115.13 561.29L115.57 561.53L116.02 561.77L116.46 562.01L116.91 562.24L117.36 562.48L117.81 562.71L118.26 562.94L118.71 563.17L119.16 563.39L119.62 563.61L120.08 563.83L120.53 564.04L120.99 564.24L121.45 564.45L121.92 564.64L122.38 564.83L122.85 565.01L123.31 565.19L123.78 565.36L124.25 565.52L124.72 565.67L125.20 565.83L125.68 565.99L126.16 566.15L126.64 566.32L127.13 566.48L127.62 566.64L128.11 566.80L128.60 566.94L129.10 567.09L129.59 567.22L130.08 567.33L130.58 567.44L131.07 567.53L131.56 567.60L132.04 567.66L132.53 567.69L133.01 567.70L133.49 567.68L133.97 567.63L134.45 567.54L134.93 567.43L135.41 567.30L135.88 567.14L136.36 566.96L136.83 566.78L137.31 566.57L137.78 566.37L138.26 566.15L138.73 565.94L139.20 565.73L139.68 565.52L140.15 565.32L140.62 565.14L141.10 564.97L141.57 564.80L142.04 564.62L142.51 564.44L142.98 564.26L143.45 564.07L143.92 563.89L144.39 563.70L144.86 563.52L145.32 563.33L145.79 563.15L146.26 562.98L146.73 562.80L147.21 562.63L147.68 562.47L148.15 562.31L148.63 562.16L149.11 562.02L149.59 561.89L150.08 561.75L150.56 561.60L151.05 561.46L151.54 561.31L152.04 561.16L152.53 561.02L153.03 560.88L153.52 560.75L154.01 560.63L154.51 560.52L155.00 560.43L155.49 560.35L155.98 560.28L156.47 560.23L156.95 560.21L157.44 560.20L157.92 560.23L158.42 560.30L158.91 560.40L159.41 560.53L159.91 560.69L160.40 560.87L160.88 561.06L161.36 561.28L161.83 561.50L162.28 561.73L162.72 561.97L163.15 562.21L163.54 562.46L163.92 562.79L164.27 563.16L164.62 563.53L164.99 563.89L165.37 564.22L165.76 564.53L166.16 564.84L166.56 565.15L166.96 565.46L167.36 565.77L167.74 566.09L168.11 566.42L168.47 566.77L168.81 567.12L169.15 567.48L169.48 567.86L169.81 568.24L170.13 568.62L170.45 569.01L170.76 569.40L171.07 569.80L171.38 570.20L171.69 570.60L171.99 571.01L172.30 571.41L172.61 571.81L172.92 572.21L173.23 572.60L173.55 572.99L173.87 573.38L174.19 573.77L174.50 574.16L174.82 574.55L175.14 574.95L175.45 575.34L175.77 575.74L176.08 576.13L176.40 576.53L176.72 576.92L177.04 577.31L177.36 577.69L177.69 578.07L178.02 578.45L178.35 578.82L178.69 579.18L179.04 579.54L179.39 579.89L179.75 580.23L180.11 580.57L180.48 580.91L180.85 581.24L181.23 581.57L181.61 581.90L182.00 582.22L182.39 582.54L182.78 582.86L183.18 583.17L183.58 583.48L183.98 583.79L184.39 584.09L184.79 584.39L185.20 584.69L185.61 584.98L186.02 585.27L186.44 585.55L186.85 585.83L187.27 586.11L187.68 586.39L188.10 586.66L188.52 586.94L188.95 587.22L189.37 587.49L189.80 587.76L190.23 588.03L190.67 588.29L191.10 588.55L191.54 588.80L191.98 589.05L192.43 589.29L192.87 589.52L193.32 589.74L193.77 589.95L194.22 590.16L194.68 590.35L195.14 590.53L195.60 590.71L196.06 590.88L196.53 591.05L197.01 591.21L197.48 591.36L197.96 591.51L198.44 591.66L198.93 591.80L199.41 591.94L199.90 592.08L200.39 592.22L200.88 592.35L201.36 592.48L201.85 592.61L202.34 592.74L202.83 592.87L203.31 593.00L203.80 593.13L204.28 593.25L204.77 593.38L205.25 593.51L205.74 593.63L206.22 593.76L206.71 593.88L207.20 594.01L207.68 594.13L208.17 594.25L208.66 594.37L209.15 594.49L209.63 594.60L210.12 594.72L210.61 594.83L211.10 594.95L211.59 595.06L212.08 595.17L212.57 595.28L213.06 595.39L213.55 595.50L214.04 595.60L214.54 595.70L215.03 595.81L215.52 595.91L216.01 596.01L216.51 596.10L217.00 596.20" fill="none" stroke="#088686" stroke-width="1.5" stroke-linejoin="round" stroke-dasharray="1.2 1.1"/>
<path d="M54.60 558.00L55.09 558.09L55.59 558.18L56.08 558.27L56.58 558.37L57.07 558.46L57.56 558.55L58.06 558.64L58.55 558.73L59.05 558.83L59.54 558.92L60.03 559.01L60.53 559.10L61.02 559.19L61.52 559.29L62.01 559.38L62.51 559.47L63.00 559.56L63.49 559.66L63.99 559.75L64.48 559.84L64.98 559.93L65.47 560.02L65.96 560.12L66.46 560.21L66.95 560.30L67.44 560.39L67.94 560.49L68.43 560.58L68.93 560.67L69.42 560.77L69.91 560.86L70.41 560.95L70.90 561.04L71.40 561.14L71.89 561.23L72.38 561.32L72.88 561.42L73.37 561.51L73.87 561.60L74.36 561.70L74.85 561.79L75.35 561.88L75.84 561.97L76.33 562.07L76.83 562.16L77.32 562.25L77.82 562.35L78.31 562.44L78.80 562.53L79.30 562.63L79.79 562.72L80.28 562.81L80.78 562.91L81.27 563.00L81.77 563.10L82.26 563.19L82.75 563.28L83.25 563.38L83.74 563.47L84.23 563.56L84.73 563.66L85.22 563.75L85.72 563.85L86.21 563.94L86.70 564.03L87.20 564.13L87.69 564.22L88.18 564.32L88.68 564.41L89.17 564.50L89.67 564.60L90.16 564.69L90.65 564.79L91.15 564.88L91.64 564.97L92.13 565.07L92.63 565.16L93.12 565.26L93.61 565.35L94.11 565.45L94.60 565.54L95.09 565.64L95.59 565.73L96.08 565.82L96.58 565.92L97.07 566.01L97.56 566.11L98.06 566.20L98.55 566.30L99.04 566.39L99.54 566.49L100.03 566.58L100.52 566.68L101.02 566.77L101.51 566.87L102.00 566.96L102.50 567.05L102.99 567.15L103.48 567.24L103.98 567.34L104.47 567.43L104.97 567.53L105.46 567.62L105.95 567.72L106.45 567.81L106.94 567.91L107.43 568.00L107.93 568.10L108.42 568.20L108.91 568.29L109.41 568.39L109.90 568.48L110.39 568.58L110.89 568.67L111.38 568.77L111.87 568.86L112.37 568.96L112.86 569.05L113.35 569.15L113.85 569.24L114.34 569.33L114.83 569.43L115.33 569.52L115.82 569.62L116.32 569.71L116.81 569.81L117.30 569.90L117.80 570.00L118.29 570.09L118.78 570.19L119.28 570.28L119.77 570.38L120.26 570.47L120.76 570.57L121.25 570.66L121.75 570.76L122.24 570.85L122.73 570.95L123.23 571.04L123.72 571.14L124.21 571.23L124.71 571.33L125.20 571.42L125.69 571.52L126.19 571.61L126.68 571.71L127.17 571.81L127.67 571.90L128.16 572.00L128.65 572.10L129.15 572.19L129.64 572.29L130.13 572.39L130.62 572.48L131.12 572.58L131.61 572.68L132.10 572.78L132.60 572.88L133.09 572.97L133.58 573.07L134.07 573.17L134.57 573.27L135.06 573.37L135.55 573.47L136.04 573.57L136.54 573.67L137.03 573.77L137.52 573.87L138.01 573.97L138.51 574.07L139.00 574.18L139.49 574.28L139.98 574.38L140.47 574.48L140.97 574.59L141.46 574.69L141.95 574.79L142.44 574.90L142.93 575.00L143.42 575.11L143.91 575.21L144.41 575.32L144.90 575.42L145.39 575.53L145.88 575.64L146.37 575.74L146.86 575.85L147.35 575.96L147.84 576.06L148.33 576.17L148.82 576.28L149.32 576.39L149.81 576.50L150.30 576.61L150.79 576.71L151.28 576.82L151.77 576.93L152.26 577.04L152.75 577.15L153.24 577.26L153.73 577.37L154.22 577.48L154.71 577.59L155.20 577.70L155.69 577.81L156.18 577.92L156.67 578.03L157.16 578.14L157.65 578.25L158.14 578.36L158.63 578.47L159.12 578.58L159.61 578.69L160.11 578.80L160.60 578.91L161.09 579.02L161.58 579.13L162.07 579.24L162.56 579.35L163.05 579.46L163.54 579.57L164.03 579.68L164.52 579.79L165.01 579.90L165.50 580.01L165.99 580.12L166.48 580.23L166.97 580.34L167.46 580.45L167.95 580.56L168.44 580.67L168.93 580.78L169.42 580.89L169.91 581.00L170.40 581.11L170.89 581.22L171.38 581.34L171.87 581.45L172.36 581.56L172.85 581.67L173.34 581.78L173.83 581.89L174.32 582.00L174.81 582.11L175.30 582.22L175.79 582.34L176.28 582.45L176.77 582.56L177.26 582.67L177.75 582.78L178.24 582.89L178.73 583.00L179.22 583.12L179.71 583.23L180.20 583.34L180.69 583.45L181.18 583.56L181.67 583.67L182.16 583.78L182.65 583.89L183.14 584.01L183.63 584.12L184.12 584.23L184.61 584.34L185.10 584.45L185.60 584.56L186.09 584.67L186.58 584.78L187.07 584.89L187.56 585.00L188.05 585.11L188.54 585.22L189.03 585.33L189.52 585.44L190.01 585.55L190.50 585.66L190.99 585.77L191.48 585.88L191.97 585.99L192.46 586.10L192.95 586.21L193.44 586.32L193.93 586.43L194.42 586.54L194.91 586.65L195.40 586.76L195.89 586.87L196.38 586.97L196.87 587.08L197.37 587.19L197.86 587.30L198.35 587.41L198.84 587.52L199.33 587.63L199.82 587.74L200.31 587.84L200.80 587.95L201.29 588.06L201.78 588.17L202.27 588.28L202.76 588.39L203.25 588.49L203.74 588.60L204.24 588.71L204.73 588.82L205.22 588.93L205.71 589.03L206.20 589.14L206.69 589.25L207.18 589.36L207.67 589.46L208.16 589.57L208.65 589.68L209.14 589.79L209.63 589.89L210.13 590.00L210.62 590.11L211.11 590.22L211.60 590.32L212.09 590.43L212.58 590.54L213.07 590.65L213.56 590.75L214.05 590.86L214.54 590.97L215.04 591.07L215.53 591.18L216.02 591.29L216.51 591.39L217.00 591.50" fill="none" stroke="#8a8a8a" stroke-width="1.5" stroke-linejoin="round"/>
</g>
<text x="91.40" y="429.80" font-size="15.1" text-anchor="start" >(a)</text>
<text x="244.40" y="430.00" font-size="15.0" text-anchor="start" >(b)</text>
<text x="70.30" y="510.00" font-size="15.1" text-anchor="start" >(c)</text>
<text x="305.70" y="608.80" font-size="14.7" text-anchor="start" >(d)</text>
<text x="122.20" y="472.50" font-size="13.7">bias V<tspan font-size="8.0" dy="5.5">LS</tspan></text>
<text x="279.50" y="472.60" font-size="13.7">bias V<tspan font-size="8.0" dy="5.5">LS</tspan></text>
<text x="111.20" y="635.60" font-size="14">bias V<tspan font-size="8.3" dy="6.0">LS</tspan></text>
<text transform="translate(30.30 426.00) rotate(-90)" font-size="14.3">G<tspan font-size="8.0" dy="4.9">LS</tspan><tspan dy="-4.9"> (e</tspan><tspan font-size="8.2" dy="-8.4">2</tspan><tspan dy="8.4">/h)</tspan></text>
<text transform="translate(15.00 588.50) rotate(-90)" font-size="14.3">G<tspan font-size="8.8" dy="4.9">LS</tspan><tspan dy="-4.9"> (e</tspan><tspan font-size="8.2" dy="-8.4">2</tspan><tspan dy="8.4">/h)</tspan></text>
<rect x="152.6" y="329.8" width="97.6" height="43.5" fill="#fff" stroke="#8c8c8c" stroke-width="1"/>
<text x="199.9" y="340.6" font-size="12.2">t<tspan font-size="7.4" dy="4.6">c</tspan></text>
<line x1="155.60" y1="353.90" x2="179.20" y2="353.90" stroke="#1c1c94" stroke-width="1.7" />
<line x1="155.60" y1="366.50" x2="179.20" y2="366.50" stroke="#8a108a" stroke-width="1.7" />
<line x1="200.20" y1="353.90" x2="223.90" y2="353.90" stroke="#ff8510" stroke-width="1.5" stroke-dasharray="1.1 1.1"/>
<line x1="200.20" y1="366.50" x2="223.90" y2="366.50" stroke="#088686" stroke-width="1.3" stroke-dasharray="1.1 1.1"/>
<text x="180.90" y="357.50" font-size="10" text-anchor="start" >0</text>
<text x="180.90" y="370.20" font-size="10" text-anchor="start" >0.1</text>
<text x="226.90" y="357.50" font-size="10" text-anchor="start" >0.05</text>
<text x="226.90" y="370.20" font-size="10" text-anchor="start" >0.2</text>
<rect x="171.8" y="481.6" width="57.0" height="72.9" fill="#fff" stroke="#8c8c8c" stroke-width="1"/>
<text x="201.70" y="493.20" font-size="9.4" text-anchor="middle" style="stroke-width:0.06px">T</text>
<line x1="174.20" y1="502.40" x2="196.30" y2="502.40" stroke="#1c1c94" stroke-width="1.4" />
<text x="198.50" y="505.30" font-size="9.5" text-anchor="start" style="stroke-width:0.06px">0.0001</text>
<line x1="174.20" y1="514.10" x2="196.30" y2="514.10" stroke="#ff8510" stroke-width="1.4" stroke-dasharray="1.1 1.1"/>
<text x="198.50" y="517.00" font-size="9.5" text-anchor="start" style="stroke-width:0.06px">0.001</text>
<line x1="174.20" y1="525.90" x2="196.30" y2="525.90" stroke="#8a108a" stroke-width="1.4" />
<text x="198.50" y="528.80" font-size="9.5" text-anchor="start" style="stroke-width:0.06px">0.01</text>
<line x1="174.20" y1="537.70" x2="196.30" y2="537.70" stroke="#088686" stroke-width="1.2" stroke-dasharray="1.1 1.1"/>
<text x="198.50" y="540.60" font-size="9.5" text-anchor="start" style="stroke-width:0.06px">0.05</text>
<line x1="174.20" y1="549.50" x2="196.30" y2="549.50" stroke="#8a8a8a" stroke-width="1.2" />
<text x="198.50" y="552.40" font-size="9.5" text-anchor="start" style="stroke-width:0.06px">0.5</text>
<ellipse cx="248.20" cy="548.8" rx="16.1" ry="16.6" fill="#c0c0c0" stroke="#0a8585" stroke-width="1" stroke-dasharray="2.6 1.5"/>
<ellipse cx="296.00" cy="548.8" rx="16.1" ry="16.6" fill="#c0c0c0" stroke="#0a8585" stroke-width="1" stroke-dasharray="2.6 1.5"/>
<path d="M235.40 581.10L236.03 580.28L236.65 579.46L237.26 578.63L237.86 577.79L238.45 576.95L239.03 576.10L239.60 575.24L240.15 574.38L240.70 573.51L241.25 572.63L241.80 571.75L242.34 570.87L242.86 569.97L243.35 569.07L243.82 568.16L244.26 567.23L244.65 566.30L245.05 565.35L245.43 564.39L245.79 563.42L246.14 562.44L246.46 561.45L246.75 560.46L247.00 559.46L247.21 558.46L247.40 557.46L247.59 556.45L247.77 555.43L247.93 554.41L248.07 553.38L248.19 552.35L248.27 551.33L248.30 550.30L248.29 549.27L248.26 548.24L248.21 547.21L248.14 546.18L248.06 545.15L247.96 544.12L247.86 543.10L247.74 542.08L247.62 541.07L247.43 540.07L247.20 539.07L246.92 538.07L246.61 537.07L246.28 536.09L245.93 535.11L245.58 534.14L245.22 533.19L244.84 532.24L244.42 531.30L243.97 530.37L243.50 529.45L243.01 528.53L242.51 527.63L242.01 526.74L241.47 525.86L240.90 525.00" fill="none" stroke="#0a8585" stroke-width="1.35" stroke-linecap="round"/>
<path d="M308.80 581.10L308.17 580.28L307.55 579.46L306.94 578.63L306.34 577.79L305.75 576.95L305.17 576.10L304.60 575.24L304.05 574.38L303.50 573.51L302.95 572.63L302.40 571.75L301.86 570.87L301.34 569.97L300.85 569.07L300.38 568.16L299.94 567.23L299.55 566.30L299.15 565.35L298.77 564.39L298.41 563.42L298.06 562.44L297.74 561.45L297.45 560.46L297.20 559.46L296.99 558.46L296.80 557.46L296.61 556.45L296.43 555.43L296.27 554.41L296.13 553.38L296.01 552.35L295.93 551.33L295.90 550.30L295.91 549.27L295.94 548.24L295.99 547.21L296.06 546.18L296.14 545.15L296.24 544.12L296.34 543.10L296.46 542.08L296.58 541.07L296.77 540.07L297.00 539.07L297.28 538.07L297.59 537.07L297.92 536.09L298.27 535.11L298.62 534.14L298.98 533.19L299.36 532.24L299.78 531.30L300.23 530.37L300.70 529.45L301.19 528.53L301.69 527.63L302.19 526.74L302.73 525.86L303.30 525.00" fill="none" stroke="#0a8585" stroke-width="1.35" stroke-linecap="round"/>
<path d="M234.90 519.10L244.80 523.60L240.80 525.20L239.30 529.30Z" fill="#0a8585"/>
<path d="M309.30 519.10L299.40 523.60L303.40 525.20L304.90 529.30Z" fill="#0a8585"/>
<line x1="267.00" y1="548.30" x2="277.00" y2="548.30" stroke="#0a8585" stroke-width="1.0" />
<path d="M264.3 548.3 L268.1 546.7 L268.1 549.9 Z" fill="#0a8585"/>
<path d="M279.9 548.3 L276.1 546.7 L276.1 549.9 Z" fill="#0a8585"/>
<text x="267.10" y="544.50" font-size="12" text-anchor="start" >tc</text>
<text x="319.80" y="529.00" font-size="13.4">ε<tspan font-size="7.6" dy="-3.0" dx="0.1">+</tspan></text>
<line x1="331.30" y1="531.50" x2="352.80" y2="531.50" stroke="#2a2a2a" stroke-width="1.3" />
<line x1="331.90" y1="522.20" x2="338.14" y2="528.87" stroke="#0a0aff" stroke-width="1.25" />
<path d="M340.87 531.79 L336.03 529.47 L338.88 526.81 Z" fill="#0a0aff"/>
<text x="337.00" y="542.00" font-size="13.4">ε<tspan font-size="7.6" dy="-3.0" dx="0.1">−</tspan></text>
<line x1="337.10" y1="544.65" x2="358.60" y2="544.65" stroke="#2a2a2a" stroke-width="1.3" />
<line x1="350.20" y1="544.65" x2="355.99" y2="537.76" stroke="#0a0aff" stroke-width="1.25" />
<path d="M358.56 534.69 L356.84 539.78 L353.85 537.27 Z" fill="#0a0aff"/>
<text x="368.80" y="529.00" font-size="13.4">ε<tspan font-size="7.6" dy="-3.0" dx="0.1">+</tspan></text>
<line x1="369.00" y1="531.50" x2="389.90" y2="531.50" stroke="#2a2a2a" stroke-width="1.3" />
<line x1="382.00" y1="531.50" x2="388.26" y2="523.62" stroke="#0a0aff" stroke-width="1.25" />
<path d="M390.75 520.49 L389.17 525.61 L386.11 523.19 Z" fill="#0a0aff"/>
<line x1="375.40" y1="534.20" x2="381.80" y2="541.88" stroke="#0a0aff" stroke-width="1.25" />
<path d="M384.36 544.96 L379.66 542.36 L382.66 539.87 Z" fill="#0a0aff"/>
<text x="389.20" y="541.80" font-size="13.4">ε<tspan font-size="7.6" dy="-3.0" dx="0.1">−</tspan></text>
<line x1="375.00" y1="544.65" x2="396.00" y2="544.65" stroke="#2a2a2a" stroke-width="1.3" />
<text x="319.80" y="562.90" font-size="13.4">ε<tspan font-size="7.6" dy="-3.0" dx="0.1">+</tspan></text>
<line x1="331.00" y1="566.40" x2="352.00" y2="566.40" stroke="#2a2a2a" stroke-width="1.3" />
<line x1="331.30" y1="555.90" x2="337.94" y2="563.58" stroke="#0a0aff" stroke-width="1.25" />
<path d="M340.56 566.60 L335.82 564.10 L338.76 561.55 Z" fill="#0a0aff"/>
<line x1="344.10" y1="566.30" x2="350.69" y2="558.46" stroke="#0a0aff" stroke-width="1.25" />
<path d="M353.26 555.39 L351.54 560.48 L348.55 557.97 Z" fill="#0a0aff"/>
<text x="350.40" y="576.60" font-size="13.4">ε<tspan font-size="7.6" dy="-3.0" dx="0.1">−</tspan></text>
<line x1="337.10" y1="580.35" x2="358.30" y2="580.35" stroke="#2a2a2a" stroke-width="1.3" />
<text x="368.30" y="563.60" font-size="13.4">ε<tspan font-size="7.6" dy="-3.0" dx="0.1">+</tspan></text>
<line x1="368.70" y1="566.40" x2="389.90" y2="566.40" stroke="#2a2a2a" stroke-width="1.3" />
<line x1="374.20" y1="570.50" x2="381.52" y2="577.59" stroke="#0a0aff" stroke-width="1.25" />
<path d="M384.39 580.38 L379.44 578.30 L382.16 575.50 Z" fill="#0a0aff"/>
<line x1="387.00" y1="580.10" x2="393.23" y2="572.44" stroke="#0a0aff" stroke-width="1.25" />
<path d="M395.75 569.34 L394.11 574.45 L391.08 571.99 Z" fill="#0a0aff"/>
<text x="395.90" y="577.60" font-size="13.4">ε<tspan font-size="7.6" dy="-3.0" dx="0.1">−</tspan></text>
<line x1="374.60" y1="580.35" x2="396.00" y2="580.35" stroke="#2a2a2a" stroke-width="1.3" />
</svg>
</body></html>
